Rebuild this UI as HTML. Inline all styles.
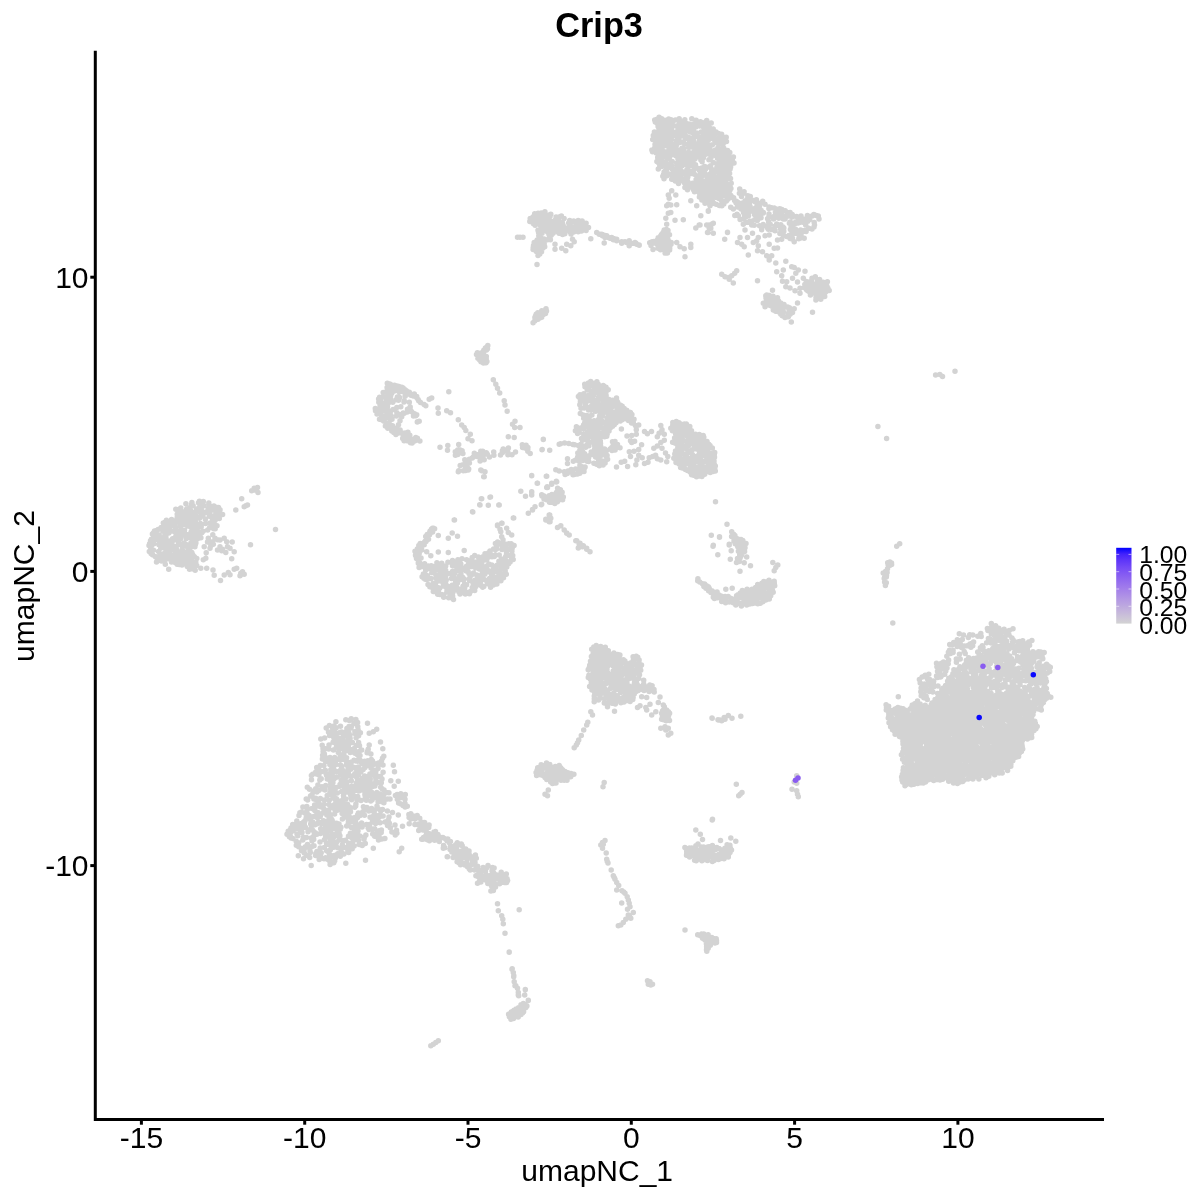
<!DOCTYPE html>
<html><head><meta charset="utf-8"><title>Crip3</title>
<style>
html,body{margin:0;padding:0;background:#fff}
svg{display:block}
text{font-family:"Liberation Sans",sans-serif;fill:#000}
svg{will-change:transform}
</style></head><body>
<svg width="1200" height="1200" viewBox="0 0 1200 1200">
<defs><linearGradient id="g" x1="0" y1="0" x2="0" y2="1"><stop offset="0.000" stop-color="#0000FF"/><stop offset="0.083" stop-color="#4322FC"/><stop offset="0.167" stop-color="#5E36F9"/><stop offset="0.250" stop-color="#7248F6"/><stop offset="0.333" stop-color="#8258F3"/><stop offset="0.417" stop-color="#9068EF"/><stop offset="0.500" stop-color="#9D77EC"/><stop offset="0.583" stop-color="#A886E8"/><stop offset="0.667" stop-color="#B296E4"/><stop offset="0.750" stop-color="#BBA5E0"/><stop offset="0.833" stop-color="#C4B4DC"/><stop offset="0.917" stop-color="#CCC4D8"/><stop offset="1.000" stop-color="#D3D3D3"/></linearGradient></defs>
<rect width="1200" height="1200" fill="#fff"/>
<g fill="none" stroke="#D3D3D3" stroke-width="5.5" stroke-linecap="round">
<path d="M677.8 127.2h0M706.7 120.4h0M696.5 145.9h0M652.5 151.7h0M655.3 122.0h0M686.7 185.8h0M660.1 133.5h0M700.1 148.5h0M725.0 139.3h0M661.9 124.4h0M665.1 164.6h0M705.6 146.4h0M654.4 132.0h0M709.3 151.2h0M676.9 164.9h0M689.2 140.1h0M719.3 174.7h0M670.7 164.0h0M695.6 190.0h0M713.6 139.1h0M686.1 179.8h0M662.6 156.5h0M716.7 163.8h0M726.5 141.4h0M710.6 165.7h0M700.4 153.7h0M691.0 171.7h0M721.8 138.8h0M683.2 172.1h0M664.0 124.3h0M660.6 135.6h0M656.3 153.1h0M697.7 190.7h0M721.5 189.0h0M673.8 150.2h0M664.7 134.3h0M669.8 156.2h0M701.2 136.9h0M681.8 163.2h0M694.7 167.7h0M683.8 148.7h0M658.3 169.1h0M654.7 120.0h0M667.6 128.2h0M679.2 118.7h0M658.1 145.7h0M703.4 127.0h0M671.4 144.3h0M681.3 124.8h0M690.3 156.1h0M656.8 123.0h0M679.4 137.1h0M695.8 126.9h0M725.4 174.5h0M672.2 145.9h0M696.2 181.7h0M678.3 133.5h0M724.5 184.0h0M721.5 178.3h0M669.2 159.0h0M672.1 174.2h0M668.6 133.8h0M666.5 131.9h0M704.3 192.2h0M723.4 155.7h0M706.8 183.5h0M715.4 155.6h0M678.5 183.6h0M713.2 128.9h0M660.4 127.3h0M680.1 161.7h0M687.5 189.7h0M671.4 139.6h0M672.1 150.5h0M680.4 153.9h0M700.7 192.5h0M693.5 160.3h0M688.0 130.0h0M664.4 155.2h0M713.2 162.4h0M678.0 159.1h0M698.2 182.1h0M658.5 162.7h0M717.4 158.2h0M698.8 180.0h0M729.8 152.6h0M703.3 158.0h0M694.4 174.2h0M689.1 160.4h0M710.9 190.1h0M659.9 152.5h0M655.6 135.0h0M718.4 191.9h0M662.8 176.2h0M707.5 126.6h0M684.3 156.4h0M663.4 151.6h0M694.7 143.6h0M666.5 141.8h0M698.1 152.3h0M658.4 137.2h0M673.1 125.4h0M721.5 136.6h0M699.6 174.9h0M657.1 119.2h0M705.2 183.6h0M689.2 143.6h0M695.7 134.8h0M658.8 128.2h0M676.7 140.6h0M716.3 139.3h0M693.3 129.6h0M721.5 151.6h0M692.9 186.5h0M683.9 158.1h0M711.6 169.3h0M684.9 144.3h0M671.7 128.3h0M726.1 172.3h0M674.1 135.2h0M675.1 154.0h0M676.5 145.1h0M691.1 157.7h0M666.9 157.9h0M657.1 148.8h0M676.0 134.3h0M700.9 160.0h0M715.5 171.2h0M683.6 142.4h0M713.1 169.9h0M728.0 168.5h0M714.0 184.6h0M661.5 159.6h0M720.2 185.8h0M709.5 174.3h0M660.9 145.4h0M698.5 168.6h0M704.5 173.2h0M719.6 179.0h0M714.2 136.0h0M655.7 137.2h0M713.6 132.0h0M692.8 147.3h0M691.5 173.4h0M716.9 167.6h0M662.2 136.2h0M714.8 140.5h0M708.9 139.4h0M694.8 154.4h0M690.4 124.4h0M688.9 137.5h0M667.8 164.6h0M721.6 158.3h0M682.0 148.2h0M681.0 151.3h0M671.2 137.2h0M732.3 161.8h0M713.9 153.2h0M690.9 144.0h0M675.5 178.2h0M707.1 140.2h0M698.4 148.3h0M663.9 128.2h0M693.1 133.2h0M688.9 126.3h0M666.2 122.0h0M679.4 122.1h0M699.5 191.1h0M715.4 149.9h0M685.7 159.6h0M684.5 152.8h0M728.3 155.2h0M706.3 180.4h0M689.6 162.0h0M705.4 174.7h0M659.1 120.3h0M695.5 164.7h0M683.4 133.5h0M669.9 135.6h0M693.2 172.6h0M686.3 136.5h0M708.1 194.3h0M679.0 150.6h0M709.5 131.3h0M721.6 134.2h0M668.9 150.3h0M707.9 196.4h0M662.1 148.3h0M661.7 118.7h0M654.5 148.3h0M707.9 147.0h0M673.9 144.6h0M666.2 145.7h0M685.5 184.5h0M715.2 192.0h0M672.3 176.3h0M677.1 138.1h0M730.1 169.1h0M683.3 135.9h0M687.1 156.9h0M721.8 181.1h0M702.8 142.6h0M671.0 119.8h0M672.6 121.5h0M657.7 157.4h0M711.9 152.9h0M715.2 187.6h0M707.9 124.7h0M699.2 146.5h0M700.2 142.4h0M720.6 170.8h0M691.1 185.2h0M652.7 139.6h0M659.7 130.6h0M725.7 153.1h0M701.8 167.9h0M668.4 146.1h0M661.7 131.8h0M671.7 166.1h0M706.7 131.8h0M676.7 131.8h0M719.4 161.7h0M684.1 161.8h0M705.6 122.1h0M663.6 174.4h0M685.4 138.7h0M676.8 163.3h0M681.3 131.3h0M689.9 128.3h0M705.8 193.0h0M681.9 157.9h0M662.1 138.7h0M666.6 125.1h0M691.8 118.8h0M718.6 133.4h0M684.9 187.5h0M694.9 147.4h0M713.2 191.9h0M702.1 161.8h0M704.6 140.7h0M686.3 164.7h0M686.8 171.3h0M688.6 152.2h0M716.6 181.8h0M714.0 181.6h0M718.8 194.8h0M655.0 144.6h0M667.6 136.9h0M693.9 141.8h0M709.2 191.8h0M659.3 160.2h0M726.3 162.3h0M704.8 148.3h0M719.6 137.1h0M681.0 180.4h0M700.9 171.7h0M703.6 151.6h0M694.5 191.8h0M701.2 131.9h0M704.3 155.3h0M670.7 127.1h0M726.1 182.0h0M684.7 137.1h0M698.8 144.5h0M706.2 152.6h0M685.0 134.8h0M666.8 166.9h0M693.9 169.8h0M718.3 176.2h0M669.1 123.3h0M678.8 179.1h0M710.6 187.4h0M712.0 137.2h0M718.8 159.5h0M672.6 169.8h0M672.2 134.6h0M714.9 196.0h0M715.1 142.5h0M690.6 186.9h0M687.8 177.0h0M699.5 140.8h0M667.9 168.1h0M679.6 126.5h0M710.7 178.0h0M721.6 191.4h0M658.6 132.0h0M659.1 117.2h0M705.2 185.7h0M705.0 139.1h0M716.1 131.9h0M677.4 150.9h0M674.1 176.2h0M681.7 142.0h0M724.4 167.8h0M651.9 150.0h0M687.7 181.2h0M679.8 175.2h0M696.7 132.9h0M692.6 183.2h0M665.5 157.0h0M674.2 132.8h0M711.0 157.4h0M710.7 182.4h0M704.6 145.0h0M728.8 157.6h0M669.8 154.1h0M696.1 179.6h0M679.9 142.5h0M707.7 178.5h0M660.3 154.2h0M671.0 142.5h0M678.1 130.6h0M658.1 147.5h0M666.5 169.5h0M684.4 182.7h0M661.7 166.5h0M684.9 178.4h0M724.5 173.1h0M676.8 168.6h0M657.8 150.5h0M704.8 135.8h0M686.6 153.6h0M665.3 170.9h0M717.9 147.9h0M732.3 159.2h0M697.0 176.3h0M667.7 173.5h0M683.8 180.3h0M686.3 174.7h0M720.7 169.1h0M680.4 169.5h0M697.6 125.0h0M722.8 144.9h0M724.3 137.3h0M675.8 155.7h0M687.0 169.4h0M707.1 135.8h0M658.1 126.5h0M702.9 181.9h0M718.8 186.9h0M698.2 137.1h0M696.8 188.9h0M707.9 187.0h0M705.4 169.3h0M694.3 156.2h0M681.5 155.3h0M667.8 151.9h0M686.5 162.2h0M722.3 149.2h0M693.7 137.7h0M678.4 141.6h0M730.6 166.9h0M703.6 168.5h0M708.1 153.8h0M717.6 193.4h0M705.9 195.1h0M720.7 164.0h0M685.6 123.0h0M712.7 135.2h0M712.2 188.3h0M687.9 172.8h0M704.8 150.4h0M711.3 185.9h0M678.5 166.7h0M702.3 140.9h0M682.4 173.5h0M702.3 191.8h0M699.7 137.9h0M709.6 193.4h0M702.8 172.9h0M690.3 132.1h0M671.7 179.3h0M719.1 154.0h0M727.3 159.4h0M691.3 165.2h0M701.9 144.1h0M725.7 156.3h0M718.0 151.1h0M666.9 129.8h0M702.0 148.6h0M701.4 179.9h0M658.5 142.2h0M691.7 128.8h0M661.5 152.9h0M668.7 119.1h0M723.3 143.2h0M708.2 132.5h0M691.3 139.0h0M671.9 131.6h0M657.8 139.3h0M720.5 143.7h0M722.7 159.8h0M665.6 151.9h0M699.6 126.1h0M712.0 131.2h0M703.3 175.5h0M667.0 119.9h0M723.5 189.1h0M726.2 137.2h0M681.6 128.3h0M682.0 165.7h0M688.5 158.9h0M677.5 175.8h0M733.4 157.0h0M711.2 123.1h0M726.0 176.3h0M692.8 157.6h0M685.0 126.0h0M701.4 188.8h0M662.2 163.8h0M683.5 150.6h0M717.8 143.5h0M720.2 193.3h0M696.1 120.2h0M705.8 137.2h0M695.1 151.8h0M676.1 170.3h0M659.8 165.7h0M672.9 154.6h0M660.1 125.6h0M656.9 161.5h0M699.5 170.5h0M666.9 175.7h0M698.3 156.8h0M675.3 181.1h0M663.2 120.0h0M662.8 143.4h0M680.3 172.7h0M703.6 187.8h0M714.4 178.6h0M699.7 150.4h0M718.4 189.8h0M702.8 147.1h0M689.1 153.9h0M693.3 152.6h0M665.4 140.5h0M700.5 121.8h0M723.7 186.8h0M694.9 159.0h0M709.7 147.9h0M708.9 159.7h0M696.0 184.9h0M664.2 141.7h0M694.4 123.7h0M727.6 150.6h0M704.8 166.4h0M676.3 174.0h0M723.6 165.0h0M693.1 162.1h0M703.3 184.1h0M712.4 144.8h0M664.1 137.3h0M688.9 147.6h0M688.0 167.9h0M721.2 140.5h0M670.6 147.9h0M712.6 133.4h0M684.8 119.8h0M680.2 135.4h0M666.1 138.7h0M707.8 143.8h0M688.3 186.6h0M680.3 176.8h0M728.6 165.1h0M702.9 132.6h0M683.6 121.6h0M677.5 171.6h0M675.4 119.9h0M710.9 135.7h0M704.7 129.9h0M714.0 175.9h0M663.5 131.3h0M675.9 147.2h0M653.3 135.4h0M704.6 153.4h0M711.2 184.0h0M672.2 161.5h0M697.2 135.8h0M685.5 131.6h0M676.6 126.0h0M711.6 172.3h0M664.1 171.9h0M702.1 154.1h0M716.8 186.2h0M654.5 138.5h0M688.7 124.0h0M677.8 154.8h0M723.3 139.8h0M722.1 141.9h0M721.6 175.3h0M663.1 140.1h0M709.9 128.3h0M674.2 171.5h0M708.9 167.0h0M727.8 161.7h0M683.8 129.0h0M734.0 163.0h0M670.1 146.4h0M668.0 140.2h0M711.7 151.1h0M664.0 178.8h0M709.3 185.7h0M702.5 122.8h0M697.6 183.8h0M708.8 136.2h0M665.5 162.2h0M682.8 126.7h0M693.5 189.8h0M723.8 148.3h0M726.3 167.1h0M655.9 142.7h0M671.7 190.8h0M668.3 195.0h0M675.8 195.0h0M669.2 198.3h0M668.3 204.2h0M666.7 205.8h0M670.8 205.0h0M676.7 204.7h0M670.8 212.5h0M668.3 213.3h0M665.8 218.3h0M675.0 220.3h0M683.3 219.7h0M666.7 224.2h0M664.2 230.0h0M663.3 235.0h0M657.8 244.0h0M663.7 234.8h0M652.1 241.7h0M651.8 243.7h0M660.5 249.8h0M669.6 249.9h0M662.6 245.7h0M667.4 252.9h0M653.0 249.6h0M665.7 241.9h0M662.7 237.2h0M660.2 238.8h0M658.2 237.7h0M657.4 240.0h0M660.8 235.7h0M671.0 244.2h0M664.7 233.2h0M663.1 232.6h0M649.7 242.8h0M669.7 245.9h0M663.1 238.8h0M653.9 241.5h0M661.6 234.4h0M662.1 248.4h0M666.5 229.4h0M667.9 239.4h0M659.9 244.3h0M660.4 246.4h0M664.9 249.6h0M666.8 235.9h0M658.0 246.3h0M666.9 233.9h0M666.3 245.9h0M669.5 234.7h0M666.1 251.4h0M661.6 240.3h0M665.1 253.1h0M656.1 243.4h0M664.2 246.3h0M669.7 248.2h0M664.4 236.4h0M663.0 243.1h0M669.1 242.0h0M651.0 245.6h0M665.8 238.0h0M658.0 248.3h0M659.4 241.0h0M671.2 242.5h0M668.0 230.4h0M600.0 234.2h0M605.0 237.5h0M610.0 238.3h0M616.7 240.8h0M621.7 242.5h0M628.3 242.5h0M633.3 243.3h0M639.2 245.0h0M604.2 243.0h0M629.2 245.0h0M625.0 241.7h0M613.3 239.7h0M635.8 243.0h0M602.5 235.8h0M607.5 237.0h0M676.7 242.5h0M680.0 246.7h0M684.2 248.7h0M690.8 244.2h0M690.8 247.5h0M685.0 256.7h0M690.8 200.8h0M696.7 205.8h0M705.0 203.3h0M710.0 205.8h0M708.3 211.3h0M700.8 215.8h0M699.2 225.0h0M695.8 228.0h0M709.2 225.0h0M713.3 223.3h0M710.8 228.3h0M708.0 232.5h0M713.3 233.3h0M727.5 232.5h0M724.7 239.2h0M721.7 274.2h0M725.0 276.7h0M728.3 277.5h0M731.7 275.8h0M734.7 273.3h0M736.7 270.8h0M729.2 279.2h0M733.3 283.0h0M743.3 224.2h0M751.7 225.0h0M745.0 230.0h0M752.5 233.3h0M761.7 229.7h0M768.3 229.2h0M773.3 229.7h0M765.0 235.8h0M769.2 235.0h0M740.0 237.5h0M747.5 237.5h0M758.3 237.5h0M737.5 242.5h0M741.7 244.2h0M744.2 246.7h0M753.3 242.5h0M756.7 240.8h0M758.3 245.8h0M757.5 250.8h0M762.5 251.7h0M769.2 244.2h0M774.2 248.3h0M777.5 248.0h0M777.5 240.0h0M781.7 239.2h0M783.3 235.0h0M779.2 225.8h0M783.3 228.3h0M792.5 238.3h0M794.2 241.7h0M795.8 233.3h0M800.0 238.3h0M804.2 238.3h0M748.3 255.0h0M766.7 255.8h0M771.7 255.8h0M769.2 260.0h0M775.8 263.0h0M785.8 261.3h0M706.7 225.0h0M712.5 223.7h0M709.2 228.3h0M707.5 232.5h0M713.3 233.3h0M727.5 232.2h0M724.7 239.2h0M700.8 215.8h0M700.0 225.0h0M708.3 210.8h0M705.0 203.3h0M710.0 205.8h0M757.5 280.8h0M776.7 271.7h0M783.3 270.0h0M781.7 275.8h0M791.7 266.7h0M794.2 267.5h0M798.3 270.0h0M805.0 271.3h0M795.8 273.3h0M792.5 278.3h0M797.5 282.0h0M782.5 281.3h0M786.7 281.7h0M785.8 286.7h0M790.0 288.0h0M803.3 278.3h0M800.0 288.3h0M795.0 290.8h0M800.0 293.3h0M812.5 312.2h0M806.3 281.5h0M804.8 284.6h0M825.8 289.4h0M815.3 276.7h0M822.5 287.3h0M816.0 297.4h0M822.1 284.9h0M817.3 281.1h0M812.8 284.1h0M807.7 290.8h0M823.2 282.2h0M811.4 281.2h0M820.8 299.2h0M807.7 286.5h0M825.4 292.2h0M814.9 284.9h0M813.9 293.1h0M826.0 284.4h0M813.2 291.0h0M824.3 285.2h0M817.4 288.7h0M815.5 287.6h0M826.9 286.3h0M815.9 300.1h0M821.8 295.8h0M822.1 290.3h0M824.7 296.6h0M824.3 290.6h0M811.7 289.3h0M809.9 281.8h0M827.4 290.4h0M817.0 286.4h0M827.4 281.7h0M817.8 285.1h0M819.2 284.8h0M829.2 290.4h0M810.4 294.9h0M819.6 279.4h0M821.9 293.9h0M804.5 287.7h0M810.4 284.3h0M824.2 288.6h0M819.6 289.9h0M811.7 287.3h0M818.2 297.1h0M819.5 287.6h0M827.9 288.2h0M816.6 289.8h0M806.6 289.8h0M818.8 294.3h0M817.2 282.7h0M819.0 281.0h0M809.0 291.6h0M820.2 294.3h0M826.0 287.6h0M812.0 278.3h0M772.5 290.3h0M766.7 295.0h0M777.5 297.8h0M771.7 298.3h0M767.5 299.2h0M763.3 303.3h0M765.0 306.7h0M770.0 304.2h0M774.2 305.8h0M778.3 306.7h0M785.0 306.7h0M773.3 310.0h0M778.3 311.7h0M783.3 311.7h0M788.3 313.3h0M792.5 312.5h0M794.2 308.8h0M797.5 303.0h0M785.0 317.5h0M788.3 316.7h0M791.3 322.0h0M780.8 314.2h0M539.5 219.3h0M559.0 233.2h0M539.6 239.6h0M550.0 216.4h0M566.7 230.1h0M586.1 223.3h0M541.9 218.2h0M557.5 220.2h0M549.3 238.1h0M582.0 229.3h0M549.0 219.0h0M568.7 222.9h0M531.9 221.9h0M574.3 230.4h0M534.2 242.5h0M538.6 221.9h0M553.1 233.3h0M538.0 255.6h0M543.2 225.9h0M569.5 227.1h0M548.3 215.2h0M570.2 222.4h0M578.6 222.9h0M563.5 229.4h0M545.0 216.4h0M580.7 225.7h0M546.4 227.5h0M538.8 223.8h0M548.0 230.2h0M553.1 227.6h0M539.9 253.8h0M578.2 231.8h0M562.4 222.8h0M544.2 220.5h0M533.5 223.7h0M579.4 228.1h0M549.5 228.0h0M538.7 251.9h0M562.6 234.4h0M535.1 225.3h0M536.3 241.9h0M544.9 211.7h0M544.7 219.0h0M541.3 213.0h0M583.8 224.6h0M535.4 222.1h0M533.5 219.6h0M569.4 225.3h0M540.9 248.0h0M540.3 250.3h0M566.3 228.3h0M541.5 251.7h0M553.7 222.5h0M539.3 245.1h0M561.5 230.3h0M539.5 243.5h0M530.2 218.6h0M537.2 239.9h0M581.5 231.1h0M536.5 247.2h0M534.7 213.8h0M564.8 233.7h0M540.3 220.9h0M576.5 227.5h0M540.6 237.6h0M588.5 227.5h0M534.6 218.3h0M558.4 228.3h0M542.4 240.8h0M573.7 231.9h0M541.7 227.9h0M541.0 241.9h0M538.8 248.7h0M533.2 247.7h0M551.3 223.5h0M543.3 223.4h0M549.9 224.6h0M543.1 229.0h0M533.1 249.6h0M547.5 239.7h0M551.2 235.2h0M538.0 230.2h0M544.7 246.8h0M538.1 213.3h0M572.2 222.2h0M543.0 248.1h0M570.2 231.9h0M559.0 217.0h0M541.8 230.3h0M550.8 231.8h0M557.2 224.2h0M550.8 214.3h0M571.0 234.1h0M542.0 233.3h0M585.1 226.7h0M537.0 249.7h0M543.7 231.0h0M535.4 220.4h0M536.1 215.2h0M545.9 222.8h0M573.7 221.1h0M553.9 229.4h0M556.1 217.1h0M546.6 221.1h0M576.0 222.0h0M537.8 243.1h0M544.2 243.9h0M549.0 234.4h0M559.0 221.3h0M576.2 225.4h0M573.7 227.6h0M569.7 220.4h0M541.1 222.9h0M580.8 223.8h0M561.4 215.9h0M557.8 218.2h0M561.9 226.5h0M547.8 232.2h0M579.1 230.2h0M555.3 225.2h0M549.3 220.7h0M551.7 226.0h0M582.1 221.0h0M571.2 227.4h0M563.1 225.2h0M582.6 225.6h0M563.7 231.1h0M540.6 225.4h0M543.1 213.4h0M561.7 232.5h0M541.2 245.6h0M555.8 227.4h0M538.8 235.7h0M542.2 221.1h0M537.0 219.3h0M531.7 218.0h0M538.5 232.3h0M553.7 226.0h0M536.4 251.6h0M550.4 239.8h0M555.8 223.2h0M558.8 225.0h0M580.2 221.4h0M551.5 227.7h0M529.8 221.5h0M533.6 216.4h0M538.3 215.9h0M535.7 217.1h0M551.9 221.8h0M544.0 238.9h0M545.0 214.0h0M586.1 230.4h0M558.0 231.8h0M564.1 218.6h0M561.5 224.5h0M533.5 245.6h0M543.5 215.4h0M555.1 220.2h0M578.2 220.4h0M520.0 237.2h0M523.0 237.2h0M517.5 237.2h0M537.0 264.5h0M555.0 244.2h0M555.0 249.2h0M561.7 248.3h0M565.8 250.8h0M566.7 244.2h0M570.8 245.8h0M574.2 241.7h0M572.5 239.2h0M590.8 238.7h0M604.2 243.0h0M596.7 232.5h0M601.7 234.2h0M606.7 235.8h0M611.7 237.5h0M616.7 239.2h0M621.7 241.7h0M626.7 242.5h0M631.7 243.3h0M636.7 244.2h0M639.2 245.3h0M629.2 245.8h0M621.7 243.3h0M599.2 234.2h0M608.3 237.5h0M635.0 242.5h0M629.2 240.8h0M614.2 238.7h0M604.2 235.3h0M546.5 311.1h0M537.8 312.8h0M539.1 315.9h0M543.4 314.6h0M543.4 310.7h0M538.0 319.3h0M546.0 308.7h0M533.1 322.7h0M539.7 312.9h0M541.8 310.7h0M535.5 315.9h0M534.7 321.0h0M545.5 313.5h0M541.7 317.2h0M536.5 318.5h0M536.2 314.3h0M534.9 317.4h0M539.7 318.0h0M540.8 314.7h0M483.4 362.9h0M487.5 348.7h0M484.7 358.5h0M481.0 354.5h0M486.8 346.9h0M484.3 360.4h0M481.0 361.7h0M486.9 361.5h0M483.6 353.6h0M477.4 352.8h0M486.3 356.4h0M482.6 356.7h0M478.7 356.3h0M477.9 358.3h0M486.2 358.7h0M480.1 357.3h0M486.5 350.0h0M483.8 350.3h0M486.0 362.8h0M479.7 360.0h0M476.5 354.4h0M487.8 345.6h0M481.0 353.0h0M485.4 348.1h0M482.6 360.0h0M493.3 379.7h0M495.8 384.2h0M497.5 388.3h0M499.7 393.0h0M504.2 400.8h0M505.0 405.0h0M507.2 411.3h0M515.0 421.3h0M512.5 424.2h0M514.7 427.5h0M520.0 427.5h0M508.3 436.7h0M514.2 437.5h0M378.9 411.4h0M391.3 387.4h0M389.5 398.0h0M386.5 399.2h0M402.7 433.0h0M381.6 415.5h0M387.5 406.4h0M378.8 402.2h0M411.0 440.6h0M409.8 438.1h0M397.1 431.7h0M407.0 392.0h0M377.4 409.9h0M390.6 419.8h0M395.9 434.5h0M410.5 442.8h0M379.5 419.3h0M417.4 438.3h0M386.5 417.9h0M391.0 415.7h0M412.1 443.0h0M407.9 432.2h0M386.0 405.3h0M385.4 426.1h0M382.7 416.7h0M414.6 440.9h0M390.9 390.8h0M380.5 400.3h0M400.4 390.0h0M407.1 434.3h0M417.8 439.9h0M390.1 424.7h0M409.8 435.3h0M386.8 415.7h0M378.6 398.9h0M408.7 436.9h0M380.1 405.5h0M412.8 394.6h0M390.7 399.0h0M387.1 387.5h0M400.1 430.1h0M381.7 408.6h0M412.8 440.1h0M404.1 438.0h0M392.8 387.7h0M377.0 414.1h0M390.2 412.5h0M391.8 431.0h0M383.2 392.5h0M389.3 427.2h0M392.0 429.6h0M387.1 423.5h0M397.0 427.9h0M409.0 394.1h0M386.8 413.9h0M390.5 393.6h0M382.9 396.9h0M389.6 414.6h0M383.6 421.0h0M406.6 436.1h0M395.2 429.0h0M393.8 432.4h0M398.5 433.0h0M405.1 433.1h0M381.1 413.7h0M387.5 396.2h0M390.0 388.8h0M384.3 416.4h0M382.3 402.9h0M419.9 441.1h0M388.6 410.7h0M390.6 384.6h0M386.2 397.2h0M397.8 390.1h0M385.5 402.8h0M403.2 391.8h0M381.7 397.6h0M414.6 438.8h0M392.5 425.7h0M388.3 403.1h0M392.0 392.8h0M386.5 391.4h0M381.0 419.5h0M395.1 390.8h0M394.8 389.0h0M379.6 397.2h0M415.8 437.4h0M391.3 426.6h0M380.1 407.9h0M387.9 384.5h0M375.5 410.7h0M399.4 392.1h0M387.8 428.2h0M392.0 419.2h0M404.1 440.8h0M403.1 435.3h0M404.0 390.2h0M383.2 407.2h0M385.2 409.0h0M398.5 424.8h0M383.3 410.6h0M402.7 438.4h0M390.9 395.1h0M386.5 425.1h0M375.3 408.5h0M407.1 393.8h0M396.5 389.1h0M407.1 440.7h0M387.3 383.2h0M389.8 384.1h0M394.4 385.2h0M396.2 386.6h0M396.3 387.9h0M399.0 386.6h0M401.8 387.2h0M403.1 387.9h0M405.0 389.7h0M406.3 390.7h0M409.3 392.3h0M410.5 394.7h0M414.3 393.9h0M416.7 396.6h0M418.1 399.6h0M418.7 400.7h0M420.5 402.5h0M424.1 404.6h0M425.8 405.8h0M396.9 386.0h0M402.3 390.4h0M403.6 389.1h0M404.7 392.8h0M409.8 393.2h0M411.0 395.2h0M413.3 395.9h0M416.7 397.5h0M404.2 400.8h0M400.8 406.7h0M407.5 409.2h0M411.7 411.7h0M404.2 413.3h0M415.8 415.8h0M401.7 416.7h0M417.5 421.7h0M419.2 421.3h0M400.0 420.8h0M431.7 398.0h0M429.2 399.2h0M448.8 391.7h0M438.0 408.0h0M438.3 413.3h0M446.7 410.8h0M450.5 412.8h0M458.3 419.7h0M461.7 425.0h0M464.2 427.5h0M465.8 430.5h0M470.3 434.2h0M468.0 438.7h0M472.0 440.8h0M458.7 444.5h0M440.0 447.2h0M447.8 445.5h0M447.5 450.3h0M469.4 463.1h0M464.8 459.8h0M462.1 450.8h0M465.4 461.6h0M502.4 450.7h0M477.2 456.4h0M480.6 454.4h0M486.3 452.8h0M484.2 459.7h0M515.5 452.0h0M474.3 453.2h0M459.7 449.7h0M475.4 455.6h0M480.1 461.1h0M500.5 454.9h0M493.7 452.1h0M512.0 454.7h0M458.7 470.8h0M482.7 451.3h0M508.4 448.0h0M482.9 457.8h0M458.0 451.5h0M481.5 457.8h0M460.2 465.5h0M455.4 455.3h0M480.8 451.2h0M481.3 459.3h0M503.2 449.1h0M465.7 470.4h0M489.5 457.1h0M465.7 463.5h0M467.6 467.9h0M487.3 454.3h0M466.7 460.8h0M507.9 454.7h0M472.3 457.9h0M484.7 453.0h0M465.7 466.9h0M484.1 454.3h0M473.3 456.9h0M457.7 450.0h0M462.9 453.6h0M455.3 451.7h0M502.3 452.8h0M463.0 464.8h0M459.4 452.9h0M507.8 452.1h0M468.7 469.1h0M506.8 451.2h0M478.2 454.5h0M469.3 459.2h0M457.8 454.4h0M493.9 455.3h0M527.8 451.2h0M530.2 453.4h0M523.7 446.0h0M525.0 448.1h0M522.6 447.5h0M526.1 445.3h0M527.9 447.6h0M522.3 444.7h0M527.8 449.6h0M543.3 439.5h0M542.2 449.5h0M549.7 450.3h0M559.2 444.2h0M480.8 470.0h0M485.0 471.7h0M483.7 476.7h0M531.7 475.5h0M546.7 476.3h0M555.8 469.7h0M537.5 483.3h0M556.7 481.7h0M551.7 484.2h0M546.7 487.5h0M520.8 491.2h0M531.7 491.7h0M525.5 496.2h0M531.7 495.0h0M541.7 495.0h0M541.3 504.7h0M535.0 506.7h0M532.5 510.0h0M528.3 513.3h0M513.3 518.0h0M490.0 497.2h0M481.3 498.7h0M479.7 504.7h0M488.3 505.3h0M498.8 505.0h0M472.8 512.0h0M454.2 520.0h0M432.5 528.3h0M501.7 523.3h0M497.5 525.8h0M506.7 528.3h0M549.2 515.0h0M545.8 520.0h0M550.0 521.7h0M596.2 384.0h0M606.6 411.0h0M587.1 397.8h0M600.4 413.1h0M602.3 409.9h0M612.7 400.3h0M593.5 390.5h0M599.6 415.9h0M617.9 410.9h0M606.8 431.4h0M605.9 392.4h0M619.8 416.7h0M594.2 420.7h0M600.8 433.6h0M628.4 420.5h0M604.5 403.2h0M626.7 419.0h0M613.8 412.8h0M610.1 407.3h0M601.8 421.1h0M635.4 425.5h0M610.3 400.7h0M587.1 399.6h0M608.4 423.4h0M604.2 397.5h0M602.3 392.8h0M606.4 422.1h0M598.5 419.4h0M588.4 383.1h0M588.4 388.5h0M608.2 389.8h0M603.9 393.4h0M608.8 418.6h0M595.1 424.5h0M587.1 422.0h0M602.1 396.4h0M605.4 432.2h0M611.4 424.4h0M595.3 430.8h0M585.5 424.9h0M598.2 384.3h0M605.6 400.2h0M623.0 409.2h0M595.9 392.6h0M596.1 425.9h0M590.5 421.5h0M601.4 423.1h0M610.5 422.6h0M596.4 408.2h0M606.0 424.7h0M591.9 415.0h0M591.9 391.7h0M598.6 432.7h0M607.2 420.0h0M594.8 422.4h0M591.1 427.9h0M619.6 407.5h0M589.0 395.0h0M620.3 421.1h0M608.2 414.0h0M588.4 407.6h0M580.0 394.7h0M610.4 420.6h0M592.2 385.6h0M595.7 411.2h0M626.2 414.5h0M583.3 398.9h0M623.1 413.4h0M583.8 393.8h0M615.1 402.7h0M602.4 398.4h0M606.1 395.5h0M604.6 411.9h0M593.3 395.9h0M587.0 386.0h0M583.2 401.1h0M594.7 383.2h0M591.2 409.7h0M585.0 386.7h0M629.8 418.8h0M594.5 429.1h0M618.3 420.1h0M590.0 408.2h0M616.0 421.2h0M631.6 422.9h0M588.6 410.1h0M612.9 414.4h0M604.9 410.2h0M608.5 426.9h0M591.8 398.2h0M598.0 409.0h0M595.8 387.9h0M586.4 401.6h0M597.1 389.9h0M606.0 387.2h0M592.2 421.5h0M617.5 412.5h0M578.4 396.4h0M590.7 381.6h0M587.2 389.8h0M599.8 428.2h0M610.4 427.7h0M596.9 381.7h0M598.5 410.7h0M600.6 392.6h0M614.6 418.9h0M597.5 386.0h0M612.1 403.8h0M622.2 419.7h0M624.9 418.1h0M615.6 411.7h0M579.8 404.7h0M582.4 397.4h0M609.2 411.1h0M581.0 408.3h0M591.7 405.7h0M609.2 402.2h0M597.9 424.1h0M604.1 431.2h0M584.7 384.2h0M609.0 416.1h0M603.6 404.6h0M633.3 422.4h0M602.3 412.2h0M599.7 387.4h0M589.1 417.9h0M621.5 414.6h0M606.7 404.8h0M609.0 399.6h0M624.0 410.7h0M589.2 386.6h0M590.8 423.9h0M615.8 415.4h0M614.5 424.5h0M604.3 386.8h0M598.2 426.5h0M592.8 402.1h0M616.0 422.8h0M611.0 411.0h0M600.4 411.0h0M610.0 413.7h0M599.8 420.6h0M591.0 399.7h0M617.7 408.6h0M597.9 430.9h0M604.0 406.8h0M607.3 401.8h0M586.1 406.2h0M603.1 401.3h0M598.8 399.2h0M598.7 392.6h0M601.0 404.8h0M607.1 408.1h0M597.8 405.5h0M607.1 418.3h0M611.4 418.2h0M616.7 406.4h0M619.6 412.5h0M601.8 414.1h0M581.9 395.5h0M612.7 423.2h0M585.4 404.1h0M588.7 400.7h0M612.6 426.2h0M590.0 397.6h0M596.3 433.5h0M600.6 407.0h0M619.9 410.4h0M613.1 406.6h0M607.8 412.2h0M623.1 417.0h0M601.1 389.3h0M605.1 389.1h0M584.6 423.0h0M599.7 394.7h0M595.1 400.6h0M603.2 385.6h0M598.7 396.9h0M602.8 390.3h0M602.7 416.1h0M627.8 417.2h0M597.6 402.7h0M605.8 429.3h0M580.4 401.8h0M584.2 408.0h0M608.4 405.3h0M594.0 406.6h0M580.0 398.5h0M582.7 460.5h0M577.8 452.9h0M586.4 459.4h0M612.5 441.7h0M595.8 450.8h0M620.0 447.8h0M573.0 474.7h0M580.2 456.5h0M593.9 463.2h0M581.9 470.4h0M613.2 443.4h0M595.7 453.3h0M600.8 462.0h0M582.7 453.4h0M582.6 467.1h0M585.1 467.0h0M615.0 441.4h0M568.0 471.1h0M584.2 468.4h0M578.7 461.1h0M593.2 452.7h0M567.3 473.6h0M592.2 454.6h0M581.5 451.1h0M602.2 461.0h0M617.5 444.4h0M598.7 451.3h0M602.4 450.0h0M559.2 470.9h0M588.3 456.0h0M606.2 456.6h0M614.6 443.9h0M594.6 448.9h0M574.6 444.8h0M600.6 463.4h0M597.6 448.4h0M579.3 471.2h0M584.6 453.8h0M599.3 465.8h0M613.6 448.5h0M591.2 452.0h0M577.7 456.9h0M579.8 473.2h0M579.9 465.6h0M564.3 471.8h0M598.7 464.3h0M575.6 469.0h0M602.6 453.5h0M600.9 455.6h0M595.6 456.9h0M582.2 448.1h0M586.9 455.9h0M587.2 461.2h0M610.2 449.1h0M598.2 462.5h0M584.0 471.4h0M565.1 474.4h0M577.5 474.1h0M564.6 442.9h0M595.3 447.7h0M603.1 465.0h0M598.2 458.7h0M588.6 457.8h0M611.8 447.4h0M604.6 449.0h0M582.8 457.0h0M571.6 471.4h0M606.4 450.7h0M615.1 450.0h0M575.8 459.9h0M598.0 455.0h0M604.7 461.2h0M607.6 459.3h0M582.8 451.9h0M588.7 461.6h0M571.3 469.5h0M582.4 469.0h0M604.7 452.9h0M596.6 464.3h0M600.7 446.6h0M605.1 462.9h0M578.4 445.6h0M579.9 449.9h0M617.6 447.3h0M599.4 460.1h0M580.1 466.9h0M584.7 456.3h0M568.8 443.5h0M573.0 444.5h0M607.1 455.5h0M572.7 473.4h0M574.3 474.6h0M612.0 450.5h0M593.1 431.9h0M588.5 415.9h0M594.6 422.2h0M581.5 438.4h0M590.3 433.0h0M583.9 433.9h0M576.4 426.7h0M577.5 431.7h0M595.5 434.7h0M607.2 434.1h0M595.4 442.4h0M593.7 427.5h0M578.0 429.2h0M600.3 441.1h0M607.6 430.6h0M593.4 440.3h0M605.9 432.5h0M577.6 433.5h0M598.8 433.8h0M585.7 426.0h0M587.5 444.5h0M583.1 437.2h0M583.7 418.3h0M599.8 437.3h0M586.3 415.5h0M595.6 423.8h0M593.7 435.9h0M588.7 442.6h0M582.6 440.3h0M587.3 440.2h0M594.7 445.8h0M589.0 428.0h0M586.4 445.5h0M604.6 436.7h0M583.1 415.1h0M579.3 432.6h0M590.5 434.5h0M580.7 428.1h0M575.4 430.7h0M597.8 438.7h0M587.1 438.2h0M585.7 419.8h0M583.6 425.1h0M587.7 431.8h0M604.4 430.8h0M592.2 424.3h0M602.0 428.1h0M596.7 427.3h0M599.0 440.7h0M596.5 444.9h0M591.8 442.0h0M588.2 434.1h0M601.2 436.7h0M589.1 423.8h0M609.0 431.1h0M595.2 436.2h0M591.0 429.7h0M589.0 420.7h0M590.6 436.6h0M600.5 443.6h0M606.7 436.2h0M595.0 426.8h0M580.3 413.6h0M583.6 428.8h0M585.7 447.2h0M588.9 445.8h0M586.1 437.2h0M589.3 430.7h0M585.4 424.5h0M581.1 444.2h0M616.5 467.0h0M621.2 462.3h0M624.7 461.2h0M627.6 466.4h0M630.5 456.5h0M629.3 451.8h0M634.0 451.2h0M635.8 464.7h0M636.9 460.0h0M638.7 455.3h0M642.2 457.7h0M644.5 463.5h0M648.0 462.3h0M649.2 457.7h0M652.7 456.5h0M657.3 458.8h0M660.8 460.0h0M666.7 461.8h0M655.6 455.3h0M653.8 448.3h0M657.3 446.0h0M662.0 448.3h0M665.5 453.0h0M667.8 456.5h0M638.7 449.5h0M641.6 444.8h0M631.7 442.5h0M630.5 440.8h0M634.6 441.3h0M627.0 436.1h0M631.7 435.5h0M636.3 434.3h0M638.7 425.0h0M636.3 429.7h0M644.5 431.4h0M647.4 433.8h0M651.5 431.4h0M621.4 429.1h0M657.3 436.7h0M659.1 433.2h0M660.8 425.6h0M662.0 429.7h0M664.3 434.3h0M664.3 440.2h0M660.8 442.5h0M567.5 458.8h0M567.5 463.5h0M573.3 461.2h0M560.5 443.7h0M616.5 398.0h0M616.3 399.5h0M617.2 401.4h0M617.7 402.6h0M620.6 405.2h0M622.2 406.3h0M624.2 408.4h0M626.7 410.3h0M629.0 412.3h0M630.4 412.5h0M631.9 414.4h0M631.6 417.8h0M634.0 419.2h0M685.8 441.0h0M682.4 468.1h0M701.4 436.2h0M709.8 455.3h0M707.9 456.0h0M692.3 454.4h0M697.6 435.3h0M684.2 467.4h0M703.8 449.1h0M688.7 461.6h0M701.9 476.5h0M707.0 441.5h0M708.7 444.2h0M693.9 473.6h0M682.7 464.0h0M707.5 458.8h0M703.2 454.0h0M700.6 438.8h0M692.3 467.6h0M679.4 446.9h0M680.6 467.6h0M699.2 442.1h0M688.2 430.7h0M679.2 460.7h0M684.5 424.0h0M688.3 445.8h0M705.6 446.2h0M702.7 466.4h0M689.2 441.4h0M672.4 430.7h0M700.5 467.9h0M696.2 459.5h0M705.6 447.8h0M690.9 452.7h0M683.5 428.0h0M695.4 461.4h0M695.5 448.7h0M702.9 443.9h0M704.3 441.4h0M689.0 438.9h0M697.5 446.2h0M681.9 424.4h0M695.0 445.7h0M684.5 431.7h0M684.0 434.5h0M687.9 452.5h0M710.2 459.9h0M685.4 469.4h0M696.5 476.7h0M709.2 469.8h0M681.0 465.7h0M682.6 435.6h0M691.6 472.9h0M672.8 422.4h0M683.1 453.7h0M695.0 438.3h0M691.3 434.0h0M686.5 435.5h0M685.0 454.9h0M682.1 462.4h0M694.0 436.9h0M672.6 442.3h0M698.6 455.2h0M707.1 466.8h0M706.3 460.0h0M674.9 443.1h0M700.4 463.3h0M699.7 452.8h0M705.6 444.3h0M687.6 463.4h0M676.0 462.6h0M681.1 460.5h0M689.8 426.4h0M712.3 462.3h0M680.9 444.2h0M681.6 450.4h0M681.3 447.7h0M675.5 430.4h0M693.6 465.0h0M695.9 474.0h0M699.3 472.7h0M685.7 446.4h0M687.5 470.4h0M701.8 448.1h0M689.8 432.4h0M711.8 467.3h0M676.7 443.9h0M686.0 426.8h0M677.2 434.7h0M677.3 423.8h0M686.7 449.1h0M711.8 454.4h0M675.0 457.0h0M672.6 426.4h0M675.8 459.7h0M710.0 445.6h0M698.4 438.3h0M677.8 447.8h0M702.2 463.3h0M691.6 474.7h0M696.9 456.2h0M675.7 434.0h0M705.1 453.8h0M712.9 465.9h0M693.9 434.7h0M689.1 458.4h0M701.1 456.1h0M704.7 474.2h0M700.0 457.9h0M714.2 464.1h0M679.2 445.1h0M679.1 464.1h0M689.6 429.6h0M690.1 472.1h0M715.3 471.1h0M712.1 458.6h0M702.6 473.0h0M714.0 461.1h0M674.8 453.9h0M685.3 459.3h0M701.1 474.6h0M702.6 439.3h0M670.8 428.3h0M709.6 463.5h0M709.1 466.2h0M714.8 468.1h0M714.3 454.8h0M678.2 440.3h0M690.1 462.7h0M677.3 430.8h0M705.4 468.0h0M691.2 460.2h0M679.8 459.0h0M673.8 458.3h0M699.1 450.7h0M676.7 432.3h0M672.8 424.4h0M688.6 435.8h0M697.4 469.3h0M713.0 471.5h0M686.2 461.3h0M695.4 434.2h0M693.6 448.9h0M690.0 468.2h0M675.5 451.1h0M710.2 453.2h0M683.8 447.7h0M691.6 470.0h0M697.0 467.4h0M691.8 450.1h0M690.1 442.9h0M706.7 471.8h0M686.4 456.6h0M704.8 455.6h0M681.4 442.5h0M704.5 461.1h0M682.4 433.1h0M674.6 438.1h0M698.0 448.2h0M678.9 434.4h0M687.4 427.8h0M701.1 460.5h0M699.3 434.5h0M680.4 436.5h0M688.7 433.6h0M714.5 457.3h0M705.7 450.2h0M714.0 469.6h0M678.8 427.9h0M677.2 436.4h0M698.0 461.9h0M677.8 462.0h0M680.6 426.4h0M679.1 431.6h0M689.1 444.2h0M676.4 426.4h0M679.1 438.2h0M678.6 449.4h0M691.5 430.8h0M672.7 428.8h0M681.2 431.6h0M699.2 476.0h0M692.4 444.0h0M710.2 472.6h0M703.3 451.9h0M709.8 461.9h0M700.1 444.4h0M682.3 439.2h0M682.8 459.4h0M675.9 441.0h0M703.2 435.5h0M692.5 442.3h0M679.2 424.8h0M712.3 448.0h0M676.3 421.6h0M679.0 422.8h0M706.6 462.0h0M676.9 438.2h0M676.9 454.3h0M685.5 428.6h0M675.1 425.1h0M687.0 443.5h0M689.2 450.9h0M683.2 446.0h0M686.3 424.0h0M704.0 469.9h0M693.5 475.3h0M694.5 470.9h0M681.1 454.4h0M703.8 437.2h0M685.9 464.1h0M677.8 459.3h0M693.3 439.1h0M692.8 456.0h0M678.9 457.3h0M681.8 452.6h0M715.3 466.0h0M696.0 470.1h0M707.9 448.6h0M696.5 441.8h0M714.7 452.4h0M543.3 439.2h0M542.0 449.7h0M549.7 450.3h0M546.3 476.2h0M556.3 482.0h0M551.7 484.2h0M547.5 487.5h0M556.0 494.6h0M557.4 501.8h0M549.5 502.2h0M546.5 499.8h0M556.4 492.6h0M551.7 497.1h0M554.8 503.4h0M551.9 494.4h0M555.3 497.6h0M544.7 496.7h0M558.7 494.5h0M553.9 499.9h0M547.3 497.8h0M549.1 495.8h0M557.3 496.2h0M558.4 492.7h0M561.7 496.4h0M562.1 492.2h0M560.2 499.5h0M563.3 496.9h0M544.0 499.1h0M549.8 500.3h0M560.4 489.7h0M543.6 495.7h0M557.6 488.2h0M542.0 496.1h0M562.6 499.8h0M552.8 498.2h0M551.1 502.2h0M541.7 504.2h0M549.7 515.0h0M545.8 520.0h0M549.7 521.7h0M557.5 527.5h0M560.8 525.8h0M564.2 530.0h0M566.7 533.3h0M569.2 535.0h0M575.8 540.8h0M579.2 544.2h0M582.5 546.7h0M586.7 549.2h0M715.5 501.7h0M727.0 524.2h0M711.3 535.3h0M719.5 536.7h0M713.3 545.3h0M731.7 531.7h0M733.3 536.7h0M735.8 541.7h0M729.2 544.2h0M738.3 546.7h0M501.9 549.6h0M420.2 543.4h0M464.6 584.0h0M493.6 549.1h0M418.3 562.8h0M446.9 591.9h0M506.8 567.0h0M493.1 581.2h0M466.6 559.8h0M428.0 584.4h0M425.7 570.3h0M503.0 539.8h0M432.7 568.1h0M457.0 570.3h0M484.8 574.2h0M489.5 578.5h0M425.3 579.2h0M432.5 566.3h0M487.0 558.9h0M485.3 567.3h0M504.4 562.3h0M438.4 590.5h0M423.8 578.3h0M468.1 571.4h0M508.9 543.7h0M496.8 545.5h0M504.0 568.7h0M490.5 580.8h0M435.3 584.0h0M492.4 578.8h0M450.9 597.0h0M490.0 550.9h0M469.7 566.5h0M422.0 544.2h0M490.6 587.2h0M452.2 585.3h0M446.2 580.1h0M465.7 591.7h0M416.5 558.6h0M433.1 583.4h0M443.1 576.5h0M438.8 575.1h0M471.8 566.4h0M513.2 559.4h0M456.6 587.3h0M421.0 566.7h0M425.9 566.9h0M497.8 577.1h0M483.0 556.7h0M480.2 565.5h0M457.4 582.9h0M440.4 568.6h0M481.9 574.2h0M490.2 553.5h0M492.4 570.4h0M498.2 570.9h0M502.2 547.2h0M462.9 567.9h0M433.3 586.4h0M429.8 586.7h0M467.2 568.3h0M501.4 565.9h0M422.8 564.4h0M487.4 583.2h0M431.8 572.4h0M427.1 577.5h0M432.5 587.8h0M423.4 574.1h0M427.5 575.7h0M426.0 541.4h0M459.5 576.2h0M424.6 576.8h0M483.7 570.5h0M452.6 588.2h0M419.1 567.6h0M452.4 571.4h0M427.1 538.1h0M427.1 568.9h0M482.7 587.2h0M455.4 571.5h0M505.2 571.0h0M440.3 581.1h0M428.2 534.7h0M472.7 561.5h0M434.4 570.5h0M454.5 564.1h0M507.8 561.7h0M509.8 549.2h0M469.4 593.7h0M476.8 575.0h0M457.0 589.3h0M435.9 586.5h0M477.8 577.8h0M461.0 575.6h0M448.0 573.4h0M501.1 543.6h0M449.3 586.9h0M450.3 595.2h0M463.2 591.7h0M496.1 566.2h0M462.0 558.7h0M436.0 577.7h0M481.8 564.4h0M444.3 578.6h0M477.1 583.3h0M475.6 568.1h0M474.7 555.4h0M437.3 576.7h0M503.5 577.8h0M438.9 569.8h0M498.7 575.6h0M497.6 541.9h0M459.8 567.4h0M474.7 590.4h0M460.0 594.1h0M485.9 556.8h0M417.3 549.1h0M428.9 567.1h0M440.8 575.2h0M424.6 563.7h0M432.6 532.1h0M499.6 577.0h0M437.7 594.2h0M488.5 571.7h0M506.1 549.2h0M493.4 585.1h0M499.2 555.1h0M484.8 560.0h0M459.7 579.7h0M473.5 572.9h0M439.3 579.4h0M491.5 574.4h0M473.1 583.2h0M456.2 578.8h0M488.7 552.7h0M481.9 559.8h0M481.3 577.8h0M480.6 569.3h0M443.3 583.0h0M464.7 587.5h0M500.6 562.1h0M472.6 574.3h0M486.0 580.2h0M431.4 529.2h0M448.4 591.8h0M415.0 551.3h0M496.8 581.5h0M421.0 558.0h0M469.5 578.7h0M475.9 586.6h0M496.9 571.4h0M441.5 594.4h0M480.5 581.8h0M462.5 577.2h0M454.5 565.9h0M455.6 582.4h0M479.6 562.2h0M458.6 589.0h0M436.3 592.1h0M495.2 555.0h0M458.4 578.4h0M506.3 574.3h0M451.5 562.6h0M445.7 586.8h0M443.9 570.2h0M466.2 570.9h0M463.5 580.0h0M461.9 569.9h0M432.0 570.4h0M452.2 573.9h0M483.8 586.4h0M447.6 586.3h0M446.2 573.1h0M469.6 580.5h0M511.1 543.8h0M512.7 555.6h0M478.1 584.2h0M447.9 562.3h0M495.4 549.8h0M485.7 558.9h0M460.8 563.9h0M457.9 559.7h0M443.6 572.0h0M495.4 543.4h0M498.6 580.5h0M493.4 569.0h0M466.6 584.7h0M433.5 572.5h0M472.2 557.5h0M512.3 548.1h0M448.7 597.8h0M427.0 536.5h0M445.7 570.4h0M511.5 557.8h0M417.1 554.6h0M501.3 559.1h0M418.8 545.4h0M445.6 577.0h0M431.0 578.6h0M435.6 589.7h0M422.1 576.7h0M468.7 563.4h0M443.7 595.0h0M453.5 599.6h0M452.3 576.5h0M454.7 573.2h0M504.2 560.4h0M473.8 584.6h0M497.2 578.7h0M470.4 591.6h0M470.1 576.7h0M505.1 544.1h0M486.0 571.1h0M437.6 566.6h0M441.4 567.5h0M506.4 554.4h0M469.0 573.5h0M504.3 546.1h0M447.0 590.2h0M443.2 586.0h0M510.1 562.0h0M491.1 571.3h0M425.4 575.0h0M496.9 584.0h0M445.7 565.9h0M439.8 594.5h0M436.0 582.6h0M451.2 591.3h0M428.4 565.9h0M431.2 565.8h0M458.9 562.8h0M495.3 579.4h0M455.5 580.2h0M435.9 574.8h0M459.0 592.1h0M476.2 564.5h0M460.9 573.5h0M454.8 562.1h0M478.6 579.0h0M500.2 573.0h0M497.1 565.3h0M415.9 553.9h0M514.1 545.5h0M508.5 555.6h0M451.5 578.6h0M452.5 560.5h0M453.7 575.7h0M452.1 598.1h0M498.9 561.2h0M479.3 568.9h0M441.7 563.2h0M487.0 565.9h0M501.0 578.6h0M452.5 565.7h0M453.0 592.1h0M502.8 543.3h0M478.4 557.1h0M461.5 592.0h0M490.2 584.7h0M503.1 567.1h0M439.6 588.2h0M471.8 559.5h0M489.4 556.5h0M445.7 583.8h0M485.0 553.8h0M421.7 550.0h0M465.3 594.1h0M434.8 568.2h0M424.5 566.9h0M427.7 579.2h0M436.9 562.8h0M474.8 565.1h0M464.2 585.4h0M463.0 586.2h0M415.5 555.2h0M431.2 532.0h0M491.8 564.9h0M492.0 556.8h0M500.9 580.7h0M440.2 571.9h0M503.9 573.4h0M502.3 563.1h0M464.2 578.9h0M496.5 549.1h0M511.9 551.3h0M437.9 587.6h0M459.3 571.3h0M476.4 562.0h0M455.0 589.9h0M506.4 551.5h0M452.6 596.1h0M488.8 563.9h0M443.7 597.2h0M474.9 580.3h0M457.3 580.3h0M472.2 587.5h0M488.4 584.0h0M478.5 565.5h0M481.6 586.1h0M456.9 563.9h0M448.7 589.2h0M463.3 588.2h0M501.3 568.0h0M506.1 545.6h0M487.3 569.7h0M508.6 563.8h0M483.8 579.3h0M505.5 557.1h0M511.0 549.7h0M466.5 566.2h0M454.4 586.4h0M433.3 591.5h0M494.3 556.4h0M494.4 567.4h0M492.9 575.3h0M454.4 585.1h0M434.6 528.8h0M433.5 528.3h0M430.7 532.7h0M429.6 534.7h0M427.6 537.7h0M428.5 539.3h0M426.7 540.2h0M425.2 541.2h0M424.2 544.8h0M424.1 543.7h0M421.8 544.7h0M419.0 548.1h0M421.5 548.3h0M418.8 552.9h0M419.2 553.5h0M416.2 556.7h0M418.2 557.9h0M419.8 562.9h0M418.3 563.3h0M430.0 531.2h0M427.2 534.6h0M425.7 536.4h0M424.2 542.5h0M424.1 544.4h0M423.1 545.0h0M420.8 547.5h0M438.3 535.5h0M448.3 538.3h0M452.2 533.0h0M457.5 536.3h0M438.3 552.0h0M448.3 552.5h0M464.2 550.5h0M426.7 551.7h0M430.8 555.8h0M454.5 520.0h0M472.5 511.7h0M480.0 505.0h0M481.7 498.7h0M490.5 497.0h0M488.3 505.3h0M499.2 505.0h0M497.5 525.0h0M502.0 523.3h0M500.0 529.2h0M506.7 528.3h0M508.3 532.5h0M511.7 535.0h0M501.7 536.7h0M500.8 531.7h0M513.7 518.0h0M528.3 513.3h0M532.5 509.5h0M535.0 506.7h0M541.3 504.5h0M520.8 491.2h0M525.5 496.2h0M531.7 492.5h0M531.7 495.0h0M537.2 483.3h0M531.7 475.8h0M546.7 476.3h0M547.2 486.7h0M551.7 483.3h0M556.3 481.3h0M541.7 494.7h0M549.2 515.0h0M545.8 519.2h0M549.2 521.7h0M550.8 518.3h0M557.5 527.5h0M560.8 525.8h0M564.2 530.0h0M566.7 533.0h0M569.2 535.0h0M576.7 540.8h0M580.0 543.3h0M583.3 545.8h0M586.7 548.3h0M590.0 551.7h0M578.3 548.0h0M458.3 471.7h0M463.3 470.8h0M468.3 470.0h0M481.7 470.8h0M484.2 476.7h0M626.4 671.0h0M641.5 665.0h0M604.4 660.0h0M649.1 691.6h0M619.4 678.1h0M612.0 703.3h0M601.7 662.8h0M628.8 678.7h0M639.1 660.1h0M608.2 655.5h0M615.3 704.0h0M629.4 688.9h0M588.3 677.5h0M603.1 692.8h0M606.7 679.8h0M603.2 653.9h0M608.9 702.6h0M591.4 656.6h0M622.1 679.5h0M626.4 698.5h0M616.9 658.9h0M636.2 656.3h0M623.3 697.6h0M605.7 665.8h0M615.5 654.8h0M629.6 690.8h0M610.4 659.3h0M591.3 683.0h0M608.8 662.7h0M594.3 680.7h0M596.5 655.9h0M609.5 694.2h0M631.7 678.1h0M652.1 685.8h0M619.8 699.4h0M599.8 679.4h0M590.5 661.2h0M617.7 654.6h0M636.0 691.6h0M639.0 662.6h0M627.7 696.0h0M603.3 665.3h0M593.5 671.0h0M598.9 649.3h0M628.6 673.5h0M633.2 695.0h0M599.1 677.3h0M605.0 654.0h0M601.2 693.6h0M598.0 653.3h0M607.7 666.1h0M621.4 682.9h0M598.1 666.1h0M590.4 679.3h0M617.5 679.4h0M598.8 656.3h0M593.7 657.0h0M601.9 675.1h0M625.5 694.5h0M602.7 683.2h0M638.7 678.6h0M611.5 675.3h0M634.5 670.5h0M640.7 670.2h0M595.8 653.1h0M595.9 676.9h0M599.9 695.8h0M589.7 665.2h0M609.5 654.4h0M633.1 656.8h0M598.9 682.2h0M596.0 693.7h0M613.8 693.0h0M610.4 681.2h0M603.1 650.4h0M593.2 653.3h0M620.2 660.0h0M594.6 651.0h0M588.2 669.8h0M592.1 687.9h0M632.9 664.4h0M620.6 664.8h0M643.7 680.3h0M615.9 678.3h0M628.4 692.9h0M622.0 663.0h0M625.3 687.1h0M598.5 700.0h0M615.4 669.2h0M623.5 691.7h0M599.8 665.7h0M605.8 683.7h0M617.6 687.9h0M613.2 671.0h0M625.3 691.6h0M612.9 654.2h0M642.3 685.9h0M612.9 665.8h0M624.4 669.2h0M629.6 667.9h0M598.6 647.2h0M614.1 696.0h0M601.2 685.7h0M602.2 690.7h0M631.2 667.6h0M620.7 692.4h0M635.1 686.8h0M630.1 701.4h0M618.5 698.0h0M609.5 657.5h0M612.3 695.9h0M636.4 682.2h0M648.5 689.9h0M596.1 699.8h0M599.8 673.7h0M620.5 673.8h0M614.6 700.7h0M639.8 689.6h0M637.0 672.9h0M619.2 658.1h0M600.8 682.9h0M627.2 690.2h0M624.1 682.2h0M624.2 673.1h0M610.3 662.1h0M609.6 675.2h0M608.5 681.7h0M628.2 671.3h0M627.9 669.0h0M634.1 678.4h0M605.7 690.5h0M596.8 663.5h0M632.9 688.1h0M614.5 657.7h0M632.2 692.0h0M633.5 662.1h0M610.9 655.8h0M604.3 703.0h0M595.5 667.6h0M607.6 695.7h0M624.9 660.9h0M618.9 672.2h0M628.4 666.6h0M621.2 687.2h0M594.1 687.1h0M594.3 695.9h0M634.9 658.7h0M591.7 649.3h0M592.1 686.1h0M638.4 687.4h0M626.9 682.6h0M623.4 659.7h0M616.0 701.6h0M616.4 674.8h0M605.3 647.3h0M593.3 675.9h0M651.7 689.2h0M589.6 686.4h0M596.6 659.7h0M601.9 678.3h0M631.3 671.1h0M591.2 667.1h0M605.8 694.2h0M610.3 683.4h0M607.5 672.5h0M633.4 659.8h0M595.0 684.7h0M629.0 686.1h0M649.8 684.9h0M610.2 688.4h0M605.1 674.9h0M617.2 682.8h0M647.5 686.8h0M637.2 684.6h0M594.2 664.0h0M604.8 678.0h0M613.8 702.6h0M612.8 682.6h0M607.7 657.9h0M622.0 671.9h0M644.0 690.4h0M605.9 662.2h0M634.4 663.6h0M603.6 656.8h0M625.5 662.7h0M597.6 686.5h0M596.2 645.4h0M624.0 702.1h0M638.3 690.4h0M617.0 699.6h0M633.9 675.3h0M627.0 678.5h0M597.1 683.2h0M594.9 660.2h0M593.2 678.6h0M594.4 690.5h0M597.2 690.7h0M640.2 666.8h0M636.6 664.0h0M601.5 651.3h0M589.0 668.3h0M600.1 698.2h0M626.1 674.2h0M632.8 699.5h0M604.4 670.1h0M593.1 672.7h0M619.1 662.4h0M600.7 670.0h0M606.4 673.9h0M607.4 652.4h0M608.3 650.8h0M594.7 692.4h0M610.7 677.0h0M605.2 692.5h0M613.5 685.4h0M588.9 675.3h0M593.8 647.1h0M622.1 674.7h0M598.4 657.8h0M617.2 695.7h0M607.3 664.0h0M616.7 670.3h0M654.0 689.5h0M604.9 650.3h0M625.6 696.5h0M613.7 675.8h0M603.9 686.7h0M620.9 702.8h0M623.9 662.4h0M613.8 688.0h0M599.4 662.7h0M636.4 678.9h0M616.9 673.0h0M630.1 697.4h0M613.9 652.9h0M617.2 661.4h0M592.0 690.0h0M600.6 659.3h0M637.7 665.5h0M604.6 688.7h0M599.4 668.6h0M634.2 684.4h0M606.8 659.9h0M600.4 691.7h0M631.6 696.6h0M635.0 689.7h0M616.0 680.7h0M640.8 688.2h0M592.6 655.5h0M612.7 673.6h0M596.5 680.1h0M607.6 697.9h0M638.7 669.8h0M621.4 699.7h0M617.7 689.6h0M621.0 666.6h0M617.4 664.4h0M592.2 658.2h0M611.0 699.3h0M633.1 697.5h0M619.1 684.3h0M617.9 676.5h0M618.9 668.6h0M607.0 669.1h0M637.7 657.2h0M639.5 674.7h0M634.5 682.5h0M615.0 661.2h0M634.4 693.8h0M592.9 668.9h0M594.9 678.6h0M596.2 688.1h0M625.8 684.1h0M604.1 676.5h0M611.1 663.6h0M632.6 674.0h0M630.4 663.1h0M626.2 666.9h0M635.9 665.6h0M636.6 670.0h0M643.7 683.9h0M610.9 678.9h0M597.2 670.4h0M627.5 700.5h0M598.1 674.5h0M597.3 650.6h0M642.8 688.0h0M619.5 682.5h0M602.0 671.9h0M654.2 691.9h0M619.9 655.1h0M600.7 646.6h0M607.5 691.1h0M594.3 698.7h0M621.6 689.6h0M630.6 676.0h0M604.4 698.8h0M602.1 687.9h0M660.0 697.0h0M658.3 702.5h0M663.3 705.0h0M640.0 705.8h0M637.5 707.5h0M650.0 704.2h0M645.8 707.5h0M646.7 710.0h0M655.8 711.7h0M651.7 715.0h0M641.7 696.7h0M646.7 697.5h0M669.5 720.6h0M662.5 711.0h0M665.0 716.6h0M668.7 719.3h0M666.6 710.0h0M668.4 711.7h0M668.7 715.1h0M663.6 709.7h0M662.4 716.1h0M664.3 706.7h0M666.1 720.8h0M663.6 719.8h0M667.1 712.7h0M667.5 716.7h0M661.6 713.2h0M669.6 713.2h0M663.0 718.3h0M661.6 719.3h0M665.3 713.1h0M660.8 728.3h0M665.0 726.7h0M668.3 728.3h0M670.8 733.3h0M668.3 735.0h0M665.8 730.0h0M607.5 706.7h0M614.5 711.2h0M594.2 701.7h0M590.8 711.7h0M592.5 715.0h0M587.8 722.2h0M586.7 725.0h0M583.7 730.0h0M581.3 735.5h0M578.7 740.0h0M577.5 742.8h0M576.3 745.0h0M574.2 747.7h0M567.0 780.2h0M550.3 779.6h0M560.5 773.5h0M555.3 766.4h0M553.2 775.7h0M554.4 777.5h0M555.6 780.7h0M547.6 772.1h0M557.9 766.8h0M554.7 773.8h0M537.7 767.7h0M555.0 771.2h0M544.5 765.7h0M546.5 763.0h0M570.7 776.7h0M554.4 769.2h0M562.2 769.6h0M543.3 773.7h0M559.7 778.8h0M551.6 773.9h0M561.0 780.2h0M536.1 772.4h0M567.6 776.1h0M571.0 773.5h0M549.8 764.5h0M556.5 769.6h0M550.7 782.1h0M540.4 774.8h0M560.7 767.7h0M564.2 780.2h0M556.0 783.1h0M550.7 770.5h0M551.6 772.0h0M546.9 767.8h0M543.1 768.5h0M552.2 767.3h0M564.7 776.6h0M552.5 783.4h0M567.9 772.8h0M562.0 777.5h0M558.2 777.7h0M565.3 774.7h0M541.1 764.7h0M547.3 776.6h0M557.1 772.9h0M542.8 765.6h0M541.6 770.8h0M564.0 773.3h0M548.9 778.3h0M543.0 775.6h0M565.0 771.5h0M541.1 766.6h0M538.5 772.9h0M537.1 770.3h0M546.7 779.4h0M566.4 777.3h0M562.4 771.5h0M562.7 774.6h0M555.8 776.0h0M559.2 765.6h0M548.1 770.3h0M555.9 778.7h0M560.8 770.8h0M545.0 777.5h0M559.4 771.9h0M549.9 768.7h0M573.9 774.3h0M557.3 775.1h0M536.6 775.5h0M554.2 783.0h0M548.3 790.0h0M545.0 794.2h0M547.5 795.8h0M604.2 782.5h0M603.0 786.7h0M712.0 718.0h0M718.3 720.0h0M712.5 819.2h0M715.5 501.7h0M727.0 524.2h0M711.3 535.3h0M719.5 537.2h0M713.0 546.2h0M717.8 554.7h0M730.3 559.2h0M731.2 550.8h0M729.2 545.0h0M740.0 571.3h0M750.5 565.7h0M744.2 562.8h0M746.7 557.0h0M772.8 562.5h0M777.8 565.0h0M774.2 570.8h0M775.8 567.5h0M737.8 542.8h0M738.4 551.2h0M734.0 541.2h0M736.0 541.2h0M742.9 544.9h0M746.0 543.6h0M734.0 538.6h0M733.6 534.2h0M739.2 548.3h0M742.6 548.8h0M737.8 546.8h0M736.8 544.4h0M731.6 536.4h0M739.7 555.1h0M733.8 536.9h0M741.2 546.9h0M740.2 542.3h0M738.7 544.9h0M744.6 551.6h0M739.2 561.6h0M739.8 558.5h0M742.4 550.7h0M742.8 540.4h0M745.0 547.8h0M734.9 535.6h0M743.2 552.3h0M740.4 557.0h0M740.6 544.3h0M740.4 551.4h0M736.5 562.5h0M737.5 558.4h0M736.3 538.2h0M735.2 543.7h0M741.0 539.6h0M737.8 539.0h0M741.3 555.4h0M772.1 585.6h0M759.0 585.9h0M752.1 589.2h0M742.4 603.0h0M747.1 589.2h0M770.7 595.7h0M746.7 605.1h0M721.1 598.2h0M761.4 594.8h0M729.4 602.1h0M771.3 587.8h0M705.9 588.2h0M717.1 591.9h0M765.1 594.9h0M702.5 583.8h0M745.9 594.0h0M747.0 597.2h0M771.1 583.3h0M719.0 595.0h0M741.4 605.9h0M753.8 602.4h0M704.6 584.1h0M767.3 596.2h0M753.0 593.2h0M764.2 599.7h0M769.1 596.7h0M774.2 581.3h0M747.8 604.0h0M746.3 600.7h0M771.2 591.5h0M715.7 593.4h0M757.8 597.3h0M725.1 596.5h0M763.8 581.6h0M744.3 593.3h0M714.4 598.5h0M757.7 584.6h0M721.6 596.2h0M725.6 598.1h0M773.2 592.2h0M765.9 593.0h0M761.9 583.3h0M756.8 600.6h0M723.8 599.5h0M735.2 598.8h0M749.7 592.0h0M763.5 586.6h0M767.5 594.0h0M736.6 595.8h0M760.6 587.3h0M751.7 599.6h0M699.7 582.1h0M737.2 599.1h0M744.4 600.9h0M713.5 592.1h0M735.6 602.3h0M717.5 597.8h0M772.4 590.3h0M735.8 604.9h0M755.0 597.7h0M737.9 602.4h0M761.1 597.9h0M697.7 580.7h0M740.3 593.1h0M721.7 601.5h0M750.6 601.3h0M734.1 600.8h0M755.6 587.6h0M765.2 585.9h0M725.6 602.7h0M733.2 602.8h0M763.1 597.4h0M740.4 596.2h0M746.2 599.0h0M742.7 595.7h0M714.1 594.5h0M774.7 585.8h0M764.6 583.4h0M754.5 591.4h0M767.4 583.5h0M757.8 603.7h0M708.6 590.7h0M770.6 593.4h0M706.5 585.8h0M769.6 589.5h0M752.8 600.8h0M766.5 581.8h0M770.3 586.4h0M749.7 604.1h0M764.2 589.1h0M759.2 590.4h0M761.4 592.7h0M697.9 578.8h0M774.3 583.2h0M738.0 594.8h0M742.3 590.5h0M755.7 603.0h0M709.2 588.2h0M708.3 586.8h0M751.9 598.0h0M757.2 594.9h0M769.3 599.0h0M711.8 590.8h0M710.9 592.5h0M736.2 600.7h0M703.9 586.6h0M749.8 594.7h0M758.5 593.0h0M756.0 596.3h0M713.3 597.2h0M723.3 597.8h0M752.6 603.5h0M728.2 596.6h0M762.8 601.7h0M730.7 598.3h0M756.3 589.8h0M765.8 600.1h0M740.6 603.9h0M760.3 603.2h0M742.1 593.5h0M754.0 599.3h0M738.9 598.1h0M765.2 587.6h0M762.7 591.0h0M742.4 597.7h0M715.4 596.3h0M754.2 596.2h0M769.3 584.2h0M748.7 597.6h0M759.2 594.8h0M769.0 580.3h0M748.5 590.9h0M725.8 589.2h0M732.2 588.3h0M924.5 684.0h0M941.4 669.3h0M938.0 686.0h0M949.7 644.6h0M957.2 646.6h0M929.7 679.4h0M952.0 645.0h0M936.9 666.7h0M968.3 637.5h0M940.4 674.6h0M973.6 641.9h0M964.5 645.9h0M926.1 696.3h0M960.7 644.5h0M941.4 663.2h0M940.6 676.9h0M972.7 645.8h0M959.3 633.8h0M953.1 650.4h0M944.7 674.2h0M959.5 645.2h0M953.7 642.4h0M955.1 643.6h0M961.6 647.5h0M927.8 684.6h0M925.4 688.8h0M946.8 656.3h0M925.2 675.2h0M963.5 634.9h0M923.7 694.5h0M920.2 683.1h0M947.0 667.9h0M948.2 663.7h0M932.6 684.7h0M926.2 690.8h0M929.9 684.5h0M950.5 653.5h0M937.6 677.6h0M929.3 691.5h0M930.1 689.5h0M933.8 686.7h0M956.4 662.3h0M927.3 699.6h0M922.2 677.1h0M956.3 659.0h0M964.2 651.6h0M936.5 676.1h0M937.5 664.1h0M933.7 680.9h0M980.8 633.6h0M945.8 671.0h0M921.2 695.8h0M923.9 697.8h0M949.5 650.2h0M960.2 659.1h0M944.4 666.7h0M958.2 641.5h0M969.7 634.8h0M957.1 643.6h0M965.2 653.4h0M921.1 687.9h0M967.2 645.7h0M959.4 654.2h0M953.8 643.8h0M962.3 639.5h0M926.4 698.0h0M972.0 643.5h0M928.8 674.3h0M933.4 682.9h0M936.5 663.2h0M948.6 659.9h0M941.7 675.4h0M957.3 639.8h0M977.8 636.2h0M919.4 679.4h0M937.5 671.2h0M943.5 662.0h0M928.5 680.9h0M941.0 666.0h0M981.2 636.6h0M953.1 652.6h0M932.8 691.9h0M948.4 652.2h0M920.8 691.8h0M939.6 670.7h0M970.9 647.3h0M927.3 678.7h0M970.0 644.1h0M971.8 645.0h0M922.7 686.0h0M972.8 634.9h0M936.8 709.1h0M948.5 737.1h0M955.2 723.7h0M911.5 722.0h0M992.0 764.9h0M1022.7 749.1h0M1038.8 698.0h0M950.4 771.2h0M965.8 675.1h0M951.2 703.5h0M988.2 739.5h0M970.2 715.8h0M929.1 717.5h0M985.9 695.3h0M925.9 762.8h0M911.6 780.0h0M1034.0 730.6h0M957.6 764.4h0M988.5 765.9h0M888.8 715.9h0M988.9 727.8h0M947.0 720.2h0M949.5 744.3h0M958.3 743.5h0M925.3 759.3h0M919.4 780.0h0M954.6 718.1h0M909.8 772.3h0M906.1 734.7h0M969.7 761.4h0M1014.6 709.7h0M906.9 728.5h0M966.4 660.2h0M907.5 758.6h0M900.5 708.3h0M961.1 724.1h0M988.5 699.2h0M968.6 727.1h0M954.2 751.6h0M917.9 729.6h0M956.4 775.0h0M953.9 669.8h0M943.3 774.6h0M888.6 706.3h0M1006.7 712.2h0M988.5 734.7h0M1011.5 699.0h0M976.1 722.6h0M1025.4 738.2h0M977.5 762.6h0M1014.6 750.3h0M998.7 751.5h0M1007.6 709.8h0M963.9 713.8h0M930.0 775.8h0M1006.2 714.1h0M1010.9 759.4h0M925.5 779.0h0M939.8 738.3h0M931.9 774.0h0M917.7 703.4h0M993.0 701.6h0M1013.6 738.8h0M925.5 782.0h0M931.9 757.2h0M952.4 757.9h0M947.3 688.5h0M911.3 784.7h0M936.8 768.9h0M1037.6 694.9h0M1016.1 745.9h0M992.0 717.7h0M991.4 721.8h0M966.9 723.4h0M909.1 720.2h0M1007.6 770.6h0M943.1 692.1h0M999.3 773.0h0M987.9 725.8h0M930.7 727.6h0M933.6 734.2h0M995.2 728.8h0M1020.7 748.3h0M926.7 745.0h0M964.7 729.7h0M969.0 724.0h0M958.6 753.8h0M979.7 707.4h0M1042.8 700.8h0M958.7 676.2h0M1001.9 710.4h0M1026.1 719.0h0M952.0 720.3h0M939.6 719.2h0M968.9 745.9h0M934.8 737.4h0M955.2 689.8h0M909.0 750.9h0M1009.5 725.7h0M964.4 684.0h0M975.7 715.8h0M897.9 731.9h0M927.6 709.6h0M956.9 721.0h0M972.2 772.3h0M1020.9 698.4h0M958.8 729.0h0M983.7 770.9h0M1013.8 695.9h0M998.9 726.1h0M961.3 771.4h0M915.1 732.5h0M1034.3 699.1h0M975.8 772.2h0M1029.3 702.3h0M997.3 715.3h0M947.8 690.4h0M970.3 732.6h0M917.2 742.5h0M942.5 718.8h0M947.0 738.4h0M976.1 732.3h0M970.2 739.8h0M906.7 775.5h0M1028.1 696.8h0M899.5 714.5h0M1000.8 762.7h0M1015.9 724.6h0M913.3 768.1h0M939.0 751.4h0M1009.7 752.1h0M1006.8 745.4h0M1009.7 706.2h0M987.8 702.0h0M941.8 732.4h0M1025.7 730.2h0M975.8 744.6h0M932.0 753.3h0M965.0 670.4h0M953.5 761.5h0M1034.0 695.4h0M909.5 734.1h0M1031.6 734.1h0M1008.6 716.5h0M984.8 699.3h0M1028.0 698.8h0M1035.4 694.0h0M996.4 695.1h0M946.5 756.4h0M937.3 744.7h0M983.4 721.3h0M888.3 718.1h0M1018.3 706.1h0M965.6 764.8h0M1010.1 755.4h0M915.2 739.6h0M905.7 721.2h0M951.8 775.9h0M903.0 711.7h0M942.0 706.4h0M1012.6 733.8h0M971.9 770.3h0M962.6 684.8h0M999.5 768.9h0M902.6 759.3h0M914.5 770.9h0M934.2 717.6h0M1025.6 722.4h0M1029.4 723.6h0M950.7 778.5h0M1004.5 698.1h0M973.3 760.8h0M950.9 710.4h0M986.0 777.7h0M1017.9 716.9h0M897.8 713.1h0M1025.1 693.9h0M987.4 747.3h0M946.8 712.1h0M979.7 767.7h0M1005.5 706.6h0M952.6 717.2h0M1010.3 738.7h0M940.7 723.0h0M1016.6 757.0h0M966.4 737.5h0M1011.3 731.9h0M931.3 704.7h0M1012.1 710.1h0M978.2 723.1h0M956.7 757.1h0M1013.6 735.5h0M896.5 729.1h0M953.5 783.1h0M998.5 720.9h0M916.5 755.3h0M952.1 781.3h0M945.6 685.5h0M954.2 773.5h0M1010.4 722.2h0M939.6 741.7h0M978.7 738.0h0M983.1 759.1h0M940.7 698.7h0M1001.9 751.5h0M961.1 729.1h0M981.0 759.7h0M959.9 761.3h0M916.9 710.6h0M946.5 693.1h0M977.9 765.4h0M933.5 749.2h0M897.6 723.0h0M964.2 722.5h0M984.5 723.6h0M1005.7 753.7h0M949.6 681.3h0M989.0 717.3h0M902.0 779.9h0M939.6 706.0h0M1007.0 697.0h0M917.6 770.3h0M905.7 757.5h0M1003.3 724.5h0M909.7 727.2h0M935.2 701.6h0M937.7 730.5h0M991.4 710.3h0M1019.3 739.7h0M921.1 738.2h0M925.0 752.0h0M954.3 769.4h0M1015.1 741.1h0M976.8 719.0h0M1040.8 700.2h0M975.6 736.8h0M972.1 767.5h0M1025.7 699.8h0M975.1 738.7h0M945.3 758.6h0M994.2 709.9h0M951.7 676.6h0M1009.7 700.2h0M930.3 743.1h0M951.6 749.4h0M907.8 740.6h0M961.7 709.9h0M948.7 707.1h0M1007.8 741.7h0M987.8 743.5h0M928.5 746.4h0M971.3 702.2h0M934.9 715.6h0M921.9 755.8h0M930.8 769.6h0M1033.0 714.4h0M961.1 774.8h0M926.8 776.0h0M962.7 720.9h0M983.0 755.0h0M938.2 766.5h0M929.5 759.1h0M960.7 721.3h0M1021.8 729.3h0M978.8 748.4h0M969.3 772.5h0M896.9 710.3h0M1027.9 711.2h0M998.3 744.4h0M952.9 724.5h0M974.2 712.3h0M946.0 740.5h0M1018.2 720.6h0M962.3 678.1h0M974.1 703.8h0M986.1 733.1h0M1015.8 737.2h0M918.8 719.0h0M1001.8 745.9h0M1016.5 750.2h0M953.1 680.1h0M942.7 756.8h0M1000.4 717.7h0M990.8 727.4h0M928.8 727.4h0M929.9 722.0h0M975.7 693.4h0M963.6 688.7h0M946.1 716.5h0M909.9 781.5h0M931.1 717.5h0M1012.7 706.1h0M970.9 700.1h0M1025.5 716.7h0M961.8 682.2h0M1047.9 695.4h0M943.5 730.4h0M910.2 764.3h0M981.0 748.7h0M994.5 722.0h0M903.3 738.3h0M907.1 711.4h0M966.2 700.2h0M904.6 773.9h0M957.6 712.8h0M908.2 764.5h0M985.9 716.5h0M1046.5 698.3h0M920.8 763.9h0M996.0 767.4h0M1001.4 737.3h0M1014.2 743.9h0M953.8 738.4h0M916.3 748.9h0M904.0 717.8h0M1014.6 757.7h0M959.4 696.4h0M984.8 745.1h0M995.1 745.7h0M930.2 773.0h0M981.9 762.0h0M1003.9 714.0h0M921.3 723.1h0M1027.0 725.6h0M945.6 770.8h0M988.6 756.1h0M941.1 727.5h0M1016.1 719.3h0M1016.6 704.0h0M936.1 759.3h0M996.7 756.0h0M948.9 763.8h0M966.7 740.5h0M971.9 774.9h0M917.5 700.9h0M929.2 712.2h0M959.9 666.8h0M953.0 744.7h0M997.6 698.7h0M957.1 731.9h0M1007.0 729.5h0M973.2 731.6h0M996.8 722.5h0M1017.8 725.7h0M913.0 728.5h0M947.7 728.0h0M979.8 726.0h0M951.2 699.1h0M947.3 749.4h0M1035.7 704.1h0M942.8 699.5h0M968.2 778.9h0M969.2 693.5h0M936.5 713.5h0M972.0 745.3h0M952.6 691.8h0M1014.3 748.4h0M1027.4 738.9h0M924.2 723.3h0M927.6 767.1h0M914.8 754.4h0M927.8 780.0h0M923.6 777.2h0M905.7 712.8h0M991.6 733.3h0M932.4 738.6h0M991.2 757.5h0M914.2 716.5h0M892.4 718.6h0M988.8 730.7h0M960.7 757.1h0M987.2 753.6h0M931.9 765.5h0M1000.3 730.2h0M1014.2 728.0h0M1031.7 737.6h0M957.2 706.7h0M972.4 751.0h0M945.2 728.7h0M964.0 719.1h0M938.4 772.2h0M923.0 729.1h0M954.0 726.1h0M983.5 731.1h0M886.1 704.7h0M946.2 751.0h0M979.1 750.8h0M909.1 736.6h0M914.0 726.4h0M1023.9 708.7h0M904.8 724.1h0M932.0 703.0h0M941.5 748.3h0M973.4 727.6h0M1003.7 766.0h0M1040.5 694.1h0M894.5 731.3h0M1020.2 718.3h0M1031.6 729.4h0M1018.3 744.8h0M974.7 747.3h0M937.5 762.0h0M925.3 712.0h0M918.5 774.4h0M906.7 753.4h0M936.4 719.9h0M980.6 771.3h0M1019.5 742.8h0M917.3 738.0h0M988.0 722.5h0M1035.9 728.8h0M890.6 710.4h0M995.0 758.7h0M1020.6 712.9h0M931.6 706.7h0M1009.0 734.2h0M941.2 752.9h0M1018.9 693.6h0M898.9 734.8h0M972.2 706.4h0M996.8 747.2h0M967.1 746.8h0M965.7 761.4h0M920.4 768.6h0M968.4 705.0h0M947.9 733.7h0M952.1 705.1h0M950.8 730.3h0M911.1 758.9h0M893.9 722.5h0M957.7 714.8h0M946.3 777.1h0M918.4 755.5h0M994.9 771.4h0M946.8 763.6h0M972.9 778.9h0M927.8 736.9h0M1022.3 695.0h0M976.8 755.3h0M1027.2 714.2h0M1022.5 705.3h0M991.7 770.9h0M917.0 724.2h0M964.7 664.9h0M981.9 732.2h0M913.5 775.6h0M983.0 733.9h0M935.0 754.8h0M1025.0 714.3h0M952.5 687.9h0M916.4 718.0h0M913.3 734.5h0M919.3 741.7h0M960.9 755.1h0M922.0 735.4h0M1037.2 726.4h0M1017.4 734.5h0M957.7 738.8h0M986.0 762.6h0M974.6 720.6h0M1022.3 740.7h0M963.5 775.2h0M974.7 700.7h0M1002.4 739.1h0M947.2 697.3h0M941.5 769.3h0M977.8 693.9h0M984.0 751.5h0M963.9 731.6h0M931.0 733.7h0M919.6 728.2h0M976.3 776.5h0M961.6 695.2h0M941.8 744.4h0M925.5 713.9h0M980.6 737.6h0M959.8 683.8h0M943.3 688.1h0M910.8 766.4h0M960.2 687.9h0M888.8 713.7h0M954.0 703.2h0M1002.2 772.9h0M955.7 748.2h0M1000.2 706.2h0M940.0 780.0h0M922.5 712.8h0M940.1 712.7h0M908.5 745.3h0M953.5 777.1h0M974.5 763.4h0M906.7 778.4h0M1010.8 704.4h0M963.2 735.7h0M1008.1 762.0h0M917.7 783.6h0M993.7 737.7h0M938.8 715.0h0M947.1 730.1h0M978.6 718.2h0M928.0 739.7h0M990.2 773.3h0M917.0 775.7h0M1031.8 709.5h0M986.2 711.8h0M973.0 714.8h0M886.5 707.5h0M958.7 701.9h0M910.3 777.7h0M917.2 766.2h0M981.8 712.3h0M936.4 772.5h0M992.2 724.9h0M994.1 741.2h0M1012.2 720.0h0M998.8 747.5h0M931.9 776.3h0M948.6 718.0h0M945.4 698.5h0M1020.4 734.0h0M914.9 779.7h0M920.0 773.3h0M1012.7 754.1h0M936.1 740.4h0M967.3 694.2h0M957.7 685.0h0M976.9 696.0h0M961.4 675.2h0M957.4 717.4h0M958.0 750.5h0M915.2 765.1h0M926.8 753.2h0M917.2 778.6h0M926.0 774.2h0M995.8 717.0h0M983.3 703.4h0M934.4 742.2h0M925.2 720.3h0M1026.8 736.5h0M983.3 695.5h0M977.8 742.1h0M950.5 718.5h0M991.2 703.4h0M943.7 722.0h0M986.2 737.0h0M989.3 753.2h0M931.8 730.1h0M924.9 736.1h0M954.6 683.0h0M985.1 759.7h0M950.3 684.9h0M949.8 766.9h0M905.3 710.2h0M964.2 710.0h0M901.8 713.2h0M1009.4 713.0h0M955.5 694.4h0M932.2 745.6h0M899.5 736.6h0M962.0 776.7h0M982.8 698.7h0M957.8 726.6h0M1025.3 711.2h0M939.1 701.0h0M1006.9 717.8h0M935.2 707.1h0M1000.3 698.7h0M992.2 715.0h0M932.1 760.5h0M969.2 711.7h0M904.0 777.0h0M978.5 701.5h0M998.4 765.2h0M1024.6 725.2h0M942.0 764.5h0M1002.0 696.9h0M980.6 710.8h0M926.1 739.9h0M987.9 767.9h0M1030.4 726.9h0M904.7 742.0h0M1000.7 767.1h0M907.6 772.3h0M1027.3 706.1h0M993.7 706.6h0M906.3 737.6h0M952.6 700.7h0M973.1 718.7h0M960.5 705.3h0M988.0 750.2h0M1011.0 734.9h0M912.0 731.8h0M1020.4 709.7h0M985.7 709.9h0M1015.0 701.7h0M916.1 715.7h0M948.8 678.3h0M936.0 725.3h0M967.9 701.7h0M945.0 703.0h0M935.9 751.7h0M945.6 695.3h0M967.4 768.5h0M932.0 714.3h0M895.2 709.0h0M911.7 748.6h0M1003.1 704.8h0M1003.1 720.5h0M952.7 682.0h0M983.2 739.3h0M957.2 693.6h0M991.8 698.0h0M911.0 753.9h0M965.2 678.9h0M924.4 718.0h0M921.4 721.0h0M1002.3 699.7h0M905.6 716.3h0M908.6 770.7h0M925.7 770.7h0M980.5 702.4h0M1004.0 708.4h0M927.0 707.3h0M997.4 737.3h0M967.0 772.3h0M1005.8 701.2h0M972.5 753.0h0M985.9 721.8h0M901.4 754.8h0M906.4 784.4h0M964.2 754.2h0M904.4 762.2h0M961.0 742.6h0M1007.6 764.4h0M932.0 779.5h0M963.4 745.0h0M934.3 731.1h0M960.2 777.9h0M986.3 774.8h0M918.2 760.5h0M1011.3 694.6h0M933.2 758.8h0M1004.0 749.5h0M960.7 714.7h0M1031.3 722.1h0M944.0 735.5h0M969.0 755.8h0M1014.6 694.0h0M934.1 709.4h0M923.3 741.5h0M953.8 730.2h0M886.3 710.1h0M909.5 714.7h0M983.6 708.8h0M959.1 719.0h0M965.4 681.3h0M938.7 728.6h0M911.8 717.0h0M941.9 750.2h0M966.1 703.7h0M918.0 713.1h0M900.5 729.4h0M944.2 723.9h0M980.2 720.2h0M960.4 748.4h0M922.4 727.1h0M970.1 709.9h0M1031.9 703.9h0M998.4 696.3h0M957.5 779.1h0M965.5 774.1h0M953.0 714.8h0M940.9 757.8h0M974.6 708.9h0M899.8 719.1h0M980.0 740.4h0M925.6 730.7h0M990.5 701.2h0M930.1 753.6h0M921.9 732.2h0M1018.8 701.7h0M992.4 739.1h0M952.9 673.7h0M924.4 715.7h0M925.0 709.7h0M1029.5 737.8h0M912.3 705.0h0M987.3 757.6h0M966.4 720.7h0M1016.6 698.6h0M956.6 686.9h0M1011.3 729.0h0M987.9 762.0h0M964.3 757.2h0M1039.5 703.0h0M1033.4 707.2h0M960.5 765.3h0M900.5 722.9h0M893.4 726.2h0M914.3 777.4h0M962.7 781.6h0M920.5 715.2h0M994.4 762.0h0M985.1 719.6h0M977.1 708.4h0M968.4 696.0h0M968.0 759.6h0M953.0 766.8h0M920.6 706.4h0M961.7 668.2h0M967.2 706.6h0M1002.2 694.4h0M1025.0 733.2h0M1029.8 735.8h0M938.8 711.2h0M1010.4 761.4h0M895.1 720.0h0M900.2 732.4h0M909.9 774.6h0M960.0 752.3h0M895.4 724.1h0M936.8 706.0h0M912.1 764.5h0M949.6 697.9h0M930.7 708.6h0M1044.9 699.4h0M927.7 750.2h0M958.5 690.5h0M914.3 758.9h0M944.8 733.6h0M904.6 736.5h0M920.8 747.2h0M977.4 774.4h0M1019.4 750.8h0M905.4 770.1h0M1005.8 737.9h0M913.6 751.2h0M948.0 715.0h0M996.5 701.7h0M906.5 767.4h0M898.0 724.9h0M1017.8 747.7h0M995.1 750.2h0M971.1 756.2h0M1009.9 746.8h0M966.2 673.2h0M1021.6 722.8h0M998.1 712.2h0M1003.8 762.7h0M956.3 753.6h0M922.6 772.7h0M898.3 727.9h0M943.8 710.0h0M977.9 769.8h0M969.9 743.5h0M901.3 737.3h0M996.4 743.5h0M941.2 710.2h0M981.8 743.3h0M1029.5 733.5h0M911.8 741.8h0M895.0 713.2h0M982.9 749.0h0M997.1 704.1h0M1006.1 699.3h0M956.9 673.1h0M941.8 736.8h0M1029.0 729.6h0M996.6 752.9h0M966.3 717.7h0M994.9 705.1h0M949.2 692.1h0M912.8 737.1h0M1015.8 713.2h0M950.1 758.5h0M940.4 761.5h0M906.2 760.5h0M965.7 695.3h0M1007.7 759.9h0M977.3 706.3h0M903.1 770.6h0M949.1 746.7h0M911.7 714.7h0M987.6 705.1h0M956.8 709.7h0M916.2 751.4h0M946.5 753.6h0M924.3 757.5h0M964.0 771.2h0M1000.8 703.8h0M962.0 751.0h0M957.0 770.4h0M1008.0 720.6h0M889.0 722.7h0M911.1 761.1h0M1007.7 757.0h0M942.7 779.2h0M961.3 734.2h0M964.8 701.7h0M980.6 728.8h0M975.8 752.3h0M940.9 776.0h0M979.7 734.8h0M905.1 749.4h0M971.4 723.8h0M964.7 748.7h0M927.6 772.3h0M944.9 764.1h0M991.2 767.4h0M1014.0 715.5h0M925.0 728.1h0M953.0 734.1h0M1004.6 716.9h0M934.3 763.6h0M1016.1 731.8h0M1011.2 707.7h0M1011.2 741.6h0M994.7 696.8h0M991.1 693.4h0M993.9 719.1h0M994.0 726.3h0M949.5 725.9h0M1003.1 767.9h0M948.7 755.2h0M923.0 749.5h0M972.4 697.5h0M971.8 737.0h0M1031.7 695.5h0M936.7 732.3h0M1009.7 719.1h0M942.3 695.0h0M1018.7 736.8h0M909.2 738.7h0M1005.8 732.7h0M994.3 724.0h0M1031.6 717.0h0M991.1 747.0h0M916.6 757.3h0M1005.7 719.4h0M960.4 699.2h0M915.2 767.6h0M942.7 746.6h0M921.1 708.9h0M934.8 704.7h0M971.8 747.7h0M1018.1 696.0h0M962.0 759.5h0M912.4 723.7h0M1016.5 694.4h0M920.2 759.3h0M907.4 731.6h0M901.7 720.4h0M967.7 731.2h0M917.5 746.1h0M976.5 757.3h0M1022.5 737.4h0M967.8 698.3h0M1021.9 744.4h0M984.2 773.0h0M905.0 785.7h0M922.9 707.8h0M934.9 747.4h0M918.7 736.2h0M904.8 732.0h0M953.6 711.3h0M1002.0 764.8h0M910.8 719.0h0M926.6 733.2h0M973.5 757.1h0M1006.1 735.2h0M990.8 762.9h0M981.0 754.4h0M923.1 762.0h0M1028.4 704.4h0M1017.8 711.4h0M961.9 718.8h0M949.8 687.1h0M904.9 726.6h0M967.8 715.2h0M952.1 742.8h0M1021.4 751.4h0M1035.4 723.5h0M910.1 709.0h0M930.4 738.8h0M918.0 722.1h0M964.2 738.6h0M955.6 700.6h0M905.4 772.1h0M1003.5 742.0h0M983.5 715.1h0M965.7 734.8h0M914.4 708.2h0M1005.0 756.6h0M943.6 748.4h0M908.9 757.3h0M1022.9 698.5h0M1024.4 702.5h0M976.8 711.5h0M973.8 773.7h0M995.7 764.3h0M944.3 708.0h0M947.0 768.9h0M901.9 716.8h0M982.3 775.2h0M906.7 748.0h0M909.1 723.2h0M903.1 708.8h0M952.1 695.4h0M1021.7 701.9h0M967.3 709.1h0M992.6 712.2h0M995.4 712.8h0M993.5 753.8h0M962.7 704.5h0M952.1 754.1h0M902.9 741.2h0M929.9 719.5h0M1036.8 697.1h0M949.4 740.9h0M958.2 741.1h0M939.1 764.4h0M929.6 715.6h0M947.2 703.8h0M1041.9 697.7h0M996.1 738.8h0M928.1 756.2h0M1018.6 756.6h0M955.4 742.6h0M1012.0 714.5h0M892.9 720.5h0M1008.2 747.9h0M989.2 719.7h0M959.4 769.5h0M965.4 744.1h0M948.7 781.2h0M942.9 754.9h0M1001.0 749.7h0M974.6 759.3h0M966.0 663.4h0M983.7 711.1h0M953.1 747.9h0M951.4 761.8h0M1014.2 730.8h0M1027.6 721.8h0M978.0 720.5h0M977.9 731.3h0M951.4 774.0h0M994.0 732.6h0M890.6 726.8h0M982.1 705.3h0M1020.0 729.7h0M1019.8 725.3h0M1020.0 707.2h0M963.2 692.9h0M893.0 710.3h0M952.7 740.1h0M948.0 685.4h0M926.1 723.5h0M1004.4 710.6h0M962.5 740.0h0M940.8 766.5h0M902.8 752.0h0M943.7 771.9h0M985.2 747.3h0M1006.8 750.6h0M1011.9 726.6h0M956.7 768.3h0M1041.9 703.7h0M960.6 701.5h0M988.8 776.3h0M916.5 780.8h0M984.5 767.5h0M1007.3 725.7h0M980.6 764.7h0M981.0 695.4h0M936.5 757.0h0M970.6 776.4h0M975.7 766.6h0M932.9 769.9h0M944.9 745.8h0M957.4 735.5h0M922.0 767.5h0M913.7 748.8h0M942.1 725.8h0M1003.2 753.9h0M957.0 669.9h0M892.5 729.7h0M1007.7 693.8h0M960.1 694.0h0M956.1 675.3h0M998.1 758.2h0M974.3 740.8h0M996.0 731.8h0M942.4 734.5h0M945.9 744.1h0M944.0 716.1h0M943.4 761.1h0M936.8 779.4h0M959.1 763.2h0M965.4 726.0h0M1018.2 708.2h0M955.3 766.0h0M1008.7 698.1h0M994.4 700.1h0M1018.6 723.3h0M984.0 717.2h0M930.9 763.2h0M965.7 714.6h0M993.2 735.7h0M1017.1 753.1h0M1016.3 722.5h0M977.9 753.5h0M980.0 714.0h0M1002.9 717.9h0M944.3 712.3h0M1030.9 719.1h0M934.1 745.5h0M977.2 698.7h0M912.0 756.4h0M963.2 680.3h0M1016.1 708.3h0M1033.4 723.4h0M999.2 714.8h0M1000.7 712.1h0M972.0 764.3h0M989.7 740.9h0M973.8 749.5h0M989.1 748.3h0M920.8 742.9h0M902.9 722.8h0M937.6 697.9h0M965.6 667.4h0M965.4 769.6h0M916.9 731.8h0M903.4 767.7h0M997.4 729.1h0M1026.4 697.7h0M952.8 779.2h0M1010.9 764.1h0M903.4 735.0h0M915.0 724.5h0M901.3 726.3h0M976.4 729.3h0M989.3 707.0h0M1001.0 770.5h0M964.2 759.9h0M1004.6 696.0h0M961.3 712.1h0M891.1 723.4h0M958.3 758.6h0M963.9 698.0h0M959.3 782.3h0M929.9 766.7h0M943.5 752.1h0M920.1 730.1h0M917.5 705.5h0M1000.1 740.4h0M1007.2 705.5h0M927.5 760.8h0M982.0 767.5h0M947.9 757.9h0M909.4 748.5h0M937.7 693.6h0M906.1 745.6h0M1016.8 743.3h0M1035.9 708.5h0M917.7 740.5h0M981.1 699.8h0M1002.0 702.1h0M930.0 741.2h0M920.3 751.3h0M961.6 690.7h0M926.4 717.5h0M907.8 780.7h0M1008.2 738.8h0M1028.3 717.1h0M917.2 772.8h0M949.2 704.6h0M954.4 708.6h0M985.7 701.2h0M950.2 751.4h0M996.5 761.9h0M1005.2 747.1h0M915.5 745.8h0M997.1 741.0h0M1032.0 731.3h0M921.0 753.7h0M993.6 763.8h0M993.1 769.4h0M954.9 744.9h0M970.6 765.7h0M948.7 701.3h0M1034.8 721.2h0M936.0 727.5h0M934.4 713.2h0M966.6 711.9h0M915.0 782.0h0M1005.1 760.7h0M899.4 721.3h0M986.7 697.7h0M938.4 777.4h0M903.0 744.1h0M954.5 721.3h0M953.3 764.1h0M976.9 739.8h0M997.8 706.4h0M955.0 781.6h0M1002.6 756.0h0M977.4 735.0h0M939.4 759.8h0M955.3 771.4h0M964.1 780.1h0M932.1 711.3h0M989.1 760.0h0M965.6 750.9h0M961.3 737.4h0M947.6 681.2h0M1042.5 694.5h0M971.7 734.4h0M952.2 722.4h0M963.5 676.3h0M921.4 779.7h0M951.1 727.0h0M911.6 745.4h0M974.8 717.9h0M944.3 777.9h0M1003.5 730.7h0M907.1 719.2h0M969.9 768.5h0M970.0 697.7h0M939.8 695.1h0M1033.6 711.3h0M989.9 725.3h0M908.9 762.6h0M902.4 774.3h0M934.0 722.9h0M998.8 723.8h0M999.2 754.8h0M957.6 704.9h0M897.0 717.9h0M1001.5 708.1h0M962.8 768.8h0M996.0 769.8h0M952.1 769.8h0M936.5 716.7h0M953.0 685.8h0M946.9 746.4h0M924.9 764.5h0M958.3 682.1h0M1020.3 715.1h0M937.2 701.1h0M917.9 752.8h0M904.7 759.2h0M968.5 770.3h0M908.3 716.2h0M928.5 725.3h0M1044.3 697.2h0M950.0 732.1h0M935.1 699.4h0M1000.1 757.8h0M958.6 678.2h0M939.3 734.5h0M889.9 719.7h0M1038.5 709.0h0M1036.9 699.6h0M897.9 707.4h0M971.7 711.5h0M936.4 711.0h0M1005.5 742.1h0M1008.0 736.5h0M920.1 703.9h0M985.7 725.4h0M959.5 732.7h0M954.4 697.2h0M993.0 756.7h0M1010.8 766.3h0M969.8 758.2h0M973.9 770.6h0M898.7 709.4h0M946.1 723.8h0M997.0 772.6h0M1043.4 702.6h0M932.0 741.7h0M908.8 767.2h0M939.0 774.8h0M971.1 728.3h0M931.9 722.8h0M1012.8 702.0h0M913.5 721.1h0M915.3 743.1h0M960.9 680.0h0M968.1 774.8h0M932.4 736.3h0M920.8 740.3h0M992.0 741.7h0M925.1 768.7h0M996.0 735.7h0M969.4 721.6h0M926.0 747.7h0M1007.4 768.2h0M957.3 773.2h0M926.0 742.0h0M1040.8 706.2h0M990.7 713.2h0M917.4 707.9h0M1005.9 727.8h0M903.5 748.3h0M943.8 739.2h0M1033.7 702.0h0M944.2 726.7h0M963.5 673.4h0M942.1 703.9h0M972.0 741.0h0M1023.6 722.0h0M946.6 708.2h0M920.2 733.8h0M997.3 734.0h0M913.9 712.1h0M923.8 780.4h0M961.5 745.8h0M1009.5 730.7h0M959.8 739.3h0M983.8 764.5h0M1030.9 706.2h0M940.1 725.8h0M1012.0 737.0h0M1019.5 752.9h0M979.2 756.9h0M965.2 686.5h0M986.3 728.0h0M979.8 697.1h0M982.0 746.5h0M925.0 725.3h0M908.7 729.4h0M968.5 718.5h0M902.7 781.9h0M934.0 727.9h0M992.6 751.2h0M945.7 765.8h0M957.2 723.1h0M1012.8 746.2h0M987.2 770.4h0M914.8 756.6h0M988.3 772.1h0M934.6 773.8h0M978.9 779.1h0M976.8 750.4h0M980.1 722.1h0M966.2 754.2h0M965.5 767.2h0M927.6 730.3h0M908.2 776.7h0M956.5 681.5h0M1036.9 702.4h0M915.5 720.5h0M901.6 777.1h0M964.5 708.1h0M891.1 712.2h0M973.7 743.8h0M976.6 760.4h0M941.8 697.0h0M913.2 739.9h0M976.4 725.9h0M1030.5 712.1h0M938.6 754.5h0M988.1 711.9h0M958.5 671.2h0M957.4 783.6h0M922.1 770.2h0M969.0 750.7h0M995.6 707.4h0M1000.9 725.9h0M1030.4 714.5h0M994.1 715.4h0M950.7 764.4h0M1003.3 747.4h0M1012.8 717.6h0M978.7 759.7h0M964.6 706.1h0M996.6 725.3h0M1022.2 746.4h0M945.4 731.6h0M934.6 769.0h0M974.2 694.6h0M937.6 749.8h0M983.5 700.9h0M1023.2 732.1h0M1019.6 731.9h0M998.8 701.8h0M975.7 770.1h0M983.5 735.8h0M1047.2 693.5h0M945.7 721.8h0M933.6 752.0h0M962.4 686.9h0M920.6 782.7h0M961.4 697.2h0M951.9 707.2h0M911.8 706.9h0M990.7 735.4h0M949.9 734.0h0M903.7 779.0h0M1023.9 735.1h0M1028.6 708.9h0M1032.9 725.4h0M925.2 705.2h0M1000.0 733.8h0M931.5 749.4h0M1027.3 727.5h0M1002.1 759.4h0M983.8 741.6h0M958.0 746.4h0M930.3 735.5h0M1003.2 734.9h0M1001.9 729.2h0M949.1 772.8h0M914.2 773.4h0M919.3 777.5h0M907.8 782.6h0M926.2 755.1h0M977.2 767.9h0M989.1 732.8h0M929.1 748.6h0M1023.9 729.5h0M1022.6 726.9h0M970.7 752.0h0M914.0 714.5h0M1016.1 706.3h0M992.5 699.7h0M928.1 734.8h0M995.8 719.5h0M927.3 719.6h0M951.0 713.8h0M955.3 759.2h0M965.3 692.5h0M911.2 735.1h0M1006.6 703.2h0M960.3 726.8h0M945.5 737.2h0M917.0 727.3h0M921.7 717.3h0M938.0 737.2h0M956.6 696.5h0M981.9 769.9h0M1014.8 704.9h0M913.9 784.2h0M973.8 735.1h0M933.8 720.7h0M937.6 722.4h0M968.8 734.1h0M949.1 709.7h0M905.2 782.5h0M969.4 737.4h0M953.6 693.7h0M1045.8 696.0h0M994.7 774.8h0M972.9 725.6h0M1022.6 712.5h0M987.1 720.2h0M1020.2 705.2h0M970.4 705.3h0M944.2 741.8h0M957.6 762.0h0M907.4 743.0h0M948.3 775.6h0M954.1 713.1h0M1012.8 760.7h0M943.7 744.0h0M929.7 750.8h0M975.3 742.6h0M1010.5 750.4h0M941.9 716.9h0M948.5 759.9h0M936.6 776.0h0M933.7 780.5h0M1022.4 720.0h0M914.7 703.8h0M1005.0 704.5h0M923.3 783.0h0M1026.9 731.7h0M976.5 746.6h0M954.5 728.2h0M967.5 743.3h0M981.2 716.6h0M946.2 701.5h0M948.6 752.5h0M923.4 733.4h0M1021.9 735.5h0M928.2 774.6h0M954.9 672.0h0M941.2 692.9h0M944.9 754.6h0M919.1 726.0h0M971.5 762.1h0M1016.8 727.5h0M959.6 779.7h0M945.9 690.9h0M984.5 757.4h0M1011.7 724.1h0M921.5 711.0h0M962.7 716.9h0M933.8 766.0h0M982.4 718.7h0M945.4 718.8h0M998.4 717.0h0M990.7 730.2h0M904.8 730.1h0M1003.7 726.7h0M944.3 769.3h0M891.3 714.2h0M941.8 690.1h0M920.6 775.8h0M1024.2 719.2h0M942.1 712.1h0M989.6 714.8h0M917.4 763.6h0M963.2 764.9h0M919.6 744.4h0M940.7 730.5h0M954.9 685.8h0M961.0 731.0h0M920.6 712.7h0M1014.8 718.0h0M922.5 774.7h0M932.0 725.3h0M912.1 770.7h0M916.4 735.5h0M999.7 735.8h0M945.7 714.1h0M978.6 715.7h0M991.7 708.1h0M954.3 732.5h0M959.2 722.8h0M960.2 708.6h0M895.1 734.2h0M1025.5 704.1h0M949.5 723.0h0M990.6 705.6h0M1005.1 751.7h0M1000.8 720.6h0M988.6 694.8h0M924.2 754.6h0M941.7 714.7h0M1039.8 657.1h0M994.5 657.2h0M976.0 658.2h0M1004.8 638.5h0M1001.6 641.6h0M996.8 676.3h0M983.4 663.2h0M974.1 662.5h0M1022.8 655.2h0M998.3 638.9h0M973.5 658.6h0M1007.1 662.5h0M983.3 686.3h0M1005.9 686.9h0M1025.8 643.9h0M980.5 662.2h0M1030.1 671.9h0M1043.2 689.8h0M987.1 678.6h0M1001.0 634.9h0M1037.6 665.1h0M989.2 680.8h0M979.8 670.4h0M981.3 655.4h0M1005.6 656.8h0M1003.9 651.2h0M985.5 663.5h0M994.5 660.1h0M982.8 690.2h0M997.5 630.2h0M1039.1 675.3h0M1009.2 630.6h0M1024.3 667.9h0M1007.5 645.1h0M1004.2 665.0h0M1025.4 689.0h0M1009.0 648.9h0M984.7 670.9h0M1013.0 639.8h0M979.1 654.2h0M1041.1 692.1h0M974.8 686.5h0M1030.9 684.1h0M1028.7 642.0h0M1040.5 667.9h0M981.7 665.3h0M1009.5 677.3h0M980.8 668.2h0M979.5 678.4h0M1002.3 655.8h0M1046.5 693.3h0M990.4 650.7h0M1028.5 660.5h0M1013.2 668.5h0M1044.2 652.4h0M1022.9 673.0h0M1004.1 629.2h0M973.8 690.6h0M1036.4 677.0h0M1009.0 635.1h0M993.5 673.2h0M1014.5 652.8h0M1037.4 692.1h0M1028.6 677.1h0M1010.9 663.4h0M1005.5 669.8h0M991.2 643.1h0M1034.9 672.4h0M1002.8 647.8h0M1035.4 690.9h0M1016.8 660.5h0M1005.0 630.9h0M970.9 669.2h0M973.7 675.0h0M988.0 665.5h0M1036.9 679.2h0M1033.6 692.6h0M1006.9 668.7h0M981.5 687.7h0M995.1 671.5h0M1017.9 672.0h0M1012.5 675.7h0M1008.7 666.8h0M1049.7 671.5h0M997.8 684.2h0M1045.0 683.4h0M1000.1 662.9h0M995.6 625.8h0M1003.3 642.3h0M968.0 681.6h0M1021.0 677.8h0M1033.4 654.8h0M990.5 639.4h0M1011.9 638.1h0M1001.0 677.2h0M1023.8 650.9h0M983.3 683.3h0M1043.7 672.1h0M1013.8 641.3h0M986.6 642.8h0M1018.9 668.2h0M1026.1 654.6h0M1012.6 642.2h0M971.7 659.5h0M1012.1 682.1h0M996.9 655.1h0M990.0 658.2h0M999.9 679.6h0M986.7 655.0h0M977.0 684.9h0M1006.6 692.9h0M1004.3 653.9h0M1024.7 659.6h0M982.3 645.7h0M1047.0 667.6h0M1024.1 663.1h0M1039.1 665.8h0M998.8 628.3h0M1001.9 687.6h0M1023.9 670.1h0M995.6 645.8h0M984.8 683.6h0M997.4 652.0h0M1006.7 641.2h0M967.0 686.7h0M999.8 675.3h0M975.5 674.4h0M995.1 681.3h0M1001.9 637.7h0M1007.7 679.6h0M996.5 666.8h0M980.3 680.7h0M1034.8 689.3h0M990.5 672.0h0M1033.3 679.5h0M997.1 632.9h0M970.6 661.7h0M1036.3 681.7h0M1042.1 656.6h0M970.0 665.9h0M1013.9 684.9h0M1002.9 684.8h0M1029.7 681.1h0M1027.8 663.9h0M992.2 681.9h0M969.6 692.4h0M984.0 675.8h0M1030.8 689.8h0M991.9 683.8h0M984.8 656.8h0M975.2 680.7h0M1008.3 691.4h0M973.6 678.0h0M1015.3 668.9h0M982.7 669.8h0M969.7 659.1h0M1039.3 673.8h0M1028.9 667.6h0M1046.4 688.6h0M1036.9 653.1h0M990.9 676.5h0M1002.1 673.5h0M991.5 687.9h0M1043.8 692.2h0M1012.1 644.8h0M1027.1 690.0h0M1020.3 658.7h0M1031.9 678.2h0M1020.0 684.8h0M1002.1 668.3h0M977.7 651.9h0M1019.7 641.5h0M1047.4 673.0h0M1011.7 658.7h0M1030.0 653.0h0M992.9 685.6h0M995.7 649.3h0M1005.5 680.2h0M1009.2 661.9h0M980.5 660.5h0M999.6 640.5h0M1000.8 648.2h0M976.3 678.5h0M973.2 687.0h0M988.7 650.7h0M1005.3 645.3h0M1000.5 661.1h0M986.4 684.6h0M993.9 625.7h0M993.3 634.6h0M1017.2 677.4h0M1010.3 671.2h0M983.7 659.3h0M1017.3 675.1h0M1037.0 667.1h0M992.9 643.2h0M977.5 682.4h0M1044.7 685.1h0M1027.5 671.4h0M1023.4 692.8h0M1002.6 665.8h0M1007.7 671.7h0M989.6 654.9h0M981.1 690.8h0M987.9 630.4h0M1038.9 680.6h0M1025.9 645.5h0M1036.3 656.9h0M977.3 671.0h0M1021.7 650.4h0M982.1 684.6h0M1026.0 663.0h0M985.4 692.6h0M1020.6 661.9h0M1018.8 681.2h0M1015.7 648.7h0M984.3 651.3h0M1009.7 656.0h0M980.6 657.0h0M989.5 682.6h0M1006.6 634.8h0M999.0 646.6h0M1008.6 687.2h0M1004.9 643.0h0M995.1 642.6h0M976.1 688.8h0M1011.4 660.6h0M1026.9 677.1h0M985.7 661.8h0M1014.1 687.6h0M981.1 675.9h0M998.5 661.3h0M972.7 682.2h0M1025.1 647.5h0M1028.8 662.8h0M1001.8 646.0h0M1044.7 677.1h0M988.6 671.4h0M967.5 689.3h0M995.0 631.4h0M1041.6 679.1h0M1005.0 655.2h0M1005.0 659.7h0M1043.9 687.7h0M968.8 664.2h0M1020.2 692.9h0M988.4 638.4h0M1033.7 661.1h0M1010.0 674.0h0M1039.5 671.9h0M1031.5 658.3h0M990.3 663.6h0M987.4 628.4h0M1022.7 640.7h0M983.0 647.4h0M1032.3 662.4h0M990.6 628.4h0M992.3 631.4h0M1014.1 648.3h0M1028.3 656.6h0M1002.5 631.5h0M1019.4 675.5h0M981.3 671.6h0M1045.7 678.7h0M1013.4 663.5h0M1027.4 649.5h0M1000.6 630.8h0M1022.9 664.4h0M993.0 656.9h0M992.0 651.9h0M999.0 691.6h0M1018.3 643.3h0M1005.1 684.1h0M995.2 687.4h0M995.0 636.5h0M973.5 665.8h0M1027.8 673.0h0M1028.8 655.0h0M1036.9 674.4h0M985.4 659.1h0M1035.1 655.6h0M1012.4 684.3h0M990.6 640.9h0M998.7 658.4h0M1044.0 666.0h0M1041.3 674.5h0M1039.2 662.7h0M1017.4 693.0h0M1036.1 683.9h0M1025.2 693.2h0M982.6 649.7h0M1007.1 653.9h0M991.4 661.0h0M1031.9 640.4h0M1001.0 670.4h0M1016.1 688.9h0M991.4 633.9h0M998.1 671.9h0M1025.3 661.3h0M1038.7 669.9h0M1008.6 675.0h0M1033.6 681.6h0M1017.7 687.5h0M1040.3 654.0h0M968.0 684.8h0M1046.6 664.3h0M997.4 679.0h0M1006.5 646.8h0M1007.0 677.9h0M991.8 626.8h0M970.3 682.3h0M1022.3 645.5h0M996.8 686.2h0M974.5 671.1h0M1012.8 646.9h0M968.7 657.7h0M1033.6 676.4h0M998.1 650.2h0M1040.7 652.0h0M1048.4 665.9h0M1026.5 646.9h0M1007.1 676.1h0M1001.3 639.1h0M1015.2 678.4h0M1013.0 628.7h0M970.4 678.5h0M1024.7 664.5h0M1024.5 654.7h0M973.4 669.3h0M971.3 671.7h0M1015.1 680.8h0M968.7 678.2h0M1029.3 687.7h0M1024.7 687.6h0M1005.6 674.6h0M1021.1 674.6h0M972.7 684.7h0M1046.4 681.4h0M1016.3 646.6h0M1033.0 651.8h0M993.0 675.0h0M966.7 675.1h0M999.6 654.4h0M1019.2 645.8h0M1025.7 680.8h0M1003.8 658.5h0M984.9 687.0h0M987.2 693.3h0M998.2 636.0h0M1006.0 666.3h0M1050.3 667.3h0M1037.0 687.5h0M1029.6 645.2h0M992.8 648.6h0M971.9 679.0h0M989.1 668.8h0M987.6 691.5h0M1017.6 656.7h0M977.3 692.9h0M1014.0 672.6h0M1001.5 652.5h0M1029.4 685.9h0M1018.9 650.8h0M1044.1 681.4h0M1038.6 651.8h0M1021.7 680.8h0M1008.8 660.5h0M1015.9 670.9h0M980.4 647.7h0M993.6 639.9h0M991.3 630.0h0M1020.1 691.1h0M1017.7 641.9h0M1005.0 636.5h0M1031.3 660.0h0M1042.8 658.8h0M974.8 692.2h0M989.6 652.5h0M1001.0 685.3h0M984.9 672.7h0M1039.0 690.2h0M1031.3 668.3h0M1043.3 674.4h0M997.7 648.4h0M978.9 686.4h0M1030.8 665.8h0M990.4 684.2h0M1029.7 679.3h0M1042.9 667.9h0M1010.2 687.2h0M1000.4 667.2h0M1039.1 682.6h0M993.6 653.1h0M991.3 623.6h0M1032.0 682.7h0M978.2 661.3h0M996.9 660.7h0M997.8 690.8h0M998.8 678.0h0M1040.7 683.0h0M1012.5 690.8h0M978.8 667.8h0M1031.4 693.1h0M1008.7 668.4h0M1029.1 664.7h0M994.8 629.3h0M979.6 664.1h0M983.3 680.8h0M976.6 665.1h0M996.2 662.3h0M1025.0 675.4h0M999.2 659.9h0M892.8 623.0h0M898.3 696.7h0M1041.3 710.0h0M1050.8 697.2h0M899.7 543.8h0M896.7 546.3h0M883.2 572.9h0M888.1 564.5h0M886.3 577.1h0M889.9 562.1h0M885.5 571.6h0M886.5 575.5h0M884.7 576.8h0M887.5 568.7h0M891.5 562.9h0M887.7 562.8h0M884.2 578.6h0M890.1 565.3h0M886.3 582.7h0M885.7 574.0h0M885.4 585.4h0M887.1 572.5h0M891.6 564.6h0M884.6 581.9h0M186.4 538.5h0M159.5 556.3h0M165.1 541.5h0M212.3 518.1h0M166.8 558.9h0M198.1 531.6h0M186.3 522.5h0M185.9 503.7h0M160.7 548.2h0M185.1 562.6h0M180.5 530.4h0M187.6 547.2h0M169.4 543.5h0M213.9 506.0h0M180.8 508.1h0M165.5 525.7h0M182.4 549.9h0M177.1 564.2h0M188.6 556.4h0M203.9 505.7h0M208.5 513.2h0M173.9 540.0h0M197.4 535.8h0M209.3 516.2h0M177.7 537.8h0M220.0 509.8h0M195.8 562.2h0M165.6 545.9h0M176.6 557.3h0M187.3 566.5h0M195.7 519.0h0M191.9 502.5h0M162.4 554.1h0M194.9 546.8h0M169.3 555.0h0M168.0 550.6h0M185.1 515.7h0M214.1 527.2h0M173.6 555.1h0M186.0 544.4h0M194.0 563.0h0M176.8 549.6h0M199.5 511.6h0M170.8 554.6h0M219.3 518.5h0M211.0 516.1h0M188.9 548.7h0M153.5 550.3h0M183.3 531.1h0M183.1 558.4h0M182.1 554.6h0M169.5 527.1h0M175.3 553.8h0M159.0 544.7h0M194.2 537.2h0M158.5 539.1h0M196.1 516.0h0M193.8 534.2h0M189.7 522.0h0M213.7 528.7h0M191.1 554.3h0M214.8 517.5h0M158.1 529.4h0M193.1 505.7h0M187.1 513.7h0M161.2 527.4h0M170.4 550.5h0M181.5 534.1h0M160.0 554.7h0M199.5 518.3h0M171.6 521.8h0M162.8 542.5h0M215.8 513.8h0M168.4 530.9h0M175.9 522.7h0M193.4 566.4h0M192.3 513.7h0M157.2 559.1h0M195.9 542.9h0M163.3 559.2h0M171.9 546.1h0M191.8 552.4h0M192.3 534.4h0M164.3 531.6h0M181.0 563.4h0M208.2 508.7h0M184.0 534.9h0M214.3 525.0h0M184.4 555.9h0M180.4 510.7h0M156.5 562.0h0M171.5 562.1h0M198.3 526.0h0M186.0 556.8h0M153.9 543.7h0M217.0 525.7h0M159.7 543.3h0M176.5 530.4h0M199.2 527.2h0M161.5 537.9h0M171.7 548.4h0M162.7 538.8h0M183.6 512.0h0M156.5 530.5h0M193.0 564.7h0M195.4 522.3h0M152.9 542.1h0M181.0 559.4h0M188.5 564.4h0M178.7 557.3h0M193.7 540.7h0M182.2 561.8h0M163.2 547.5h0M202.1 506.1h0M166.2 557.0h0M180.6 526.3h0M203.1 531.2h0M192.2 539.3h0M154.5 530.9h0M198.5 502.7h0M189.5 569.2h0M157.0 538.0h0M183.6 518.9h0M191.9 544.6h0M187.5 517.6h0M200.9 537.8h0M190.9 538.0h0M205.4 519.3h0M184.3 532.7h0M186.5 561.6h0M155.2 556.4h0M152.4 554.7h0M165.9 529.6h0M198.7 509.6h0M209.6 527.8h0M177.2 514.3h0M184.5 530.2h0M208.8 503.0h0M212.6 522.9h0M201.0 515.0h0M176.1 546.9h0M187.7 526.0h0M175.2 525.3h0M192.8 531.6h0M189.7 507.7h0M152.4 533.9h0M150.7 548.8h0M177.7 540.6h0M165.9 537.2h0M188.6 514.6h0M197.0 527.7h0M216.9 507.5h0M168.7 523.4h0M167.5 526.4h0M222.6 514.4h0M179.1 542.8h0M193.8 521.8h0M186.4 564.0h0M190.8 563.5h0M164.8 533.4h0M153.2 538.3h0M177.0 561.4h0M182.0 565.1h0M172.0 525.3h0M186.5 553.8h0M191.7 568.7h0M165.3 535.1h0M162.9 531.0h0M186.2 536.4h0M190.3 558.7h0M180.7 556.7h0M164.5 560.2h0M192.8 515.7h0M179.2 522.0h0M179.5 531.6h0M170.6 556.3h0M177.0 518.7h0M150.5 540.8h0M172.8 560.1h0M190.9 543.0h0M180.4 553.3h0M190.3 536.2h0M209.4 505.4h0M169.8 559.1h0M213.9 508.9h0M177.2 509.9h0M199.4 501.3h0M205.1 512.2h0M178.4 544.2h0M184.8 552.0h0M211.8 509.9h0M184.9 545.5h0M156.6 539.4h0M200.4 516.6h0M191.1 527.5h0M177.3 517.1h0M205.6 523.6h0M165.6 522.1h0M178.4 519.6h0M210.1 512.0h0M151.4 539.3h0M177.7 555.9h0M179.4 509.3h0M182.3 546.4h0M210.8 508.8h0M201.2 508.2h0M185.5 519.4h0M199.5 536.9h0M149.3 551.4h0M191.0 547.0h0M160.1 560.0h0M178.2 533.7h0M194.1 556.4h0M215.0 520.4h0M179.1 564.5h0M215.2 528.8h0M191.6 504.2h0M163.3 523.0h0M207.7 529.9h0M203.0 516.0h0M173.9 523.1h0M161.4 556.6h0M178.7 551.9h0M194.7 511.9h0M172.9 530.9h0M188.4 553.3h0M190.4 510.3h0M195.2 570.2h0M193.9 568.9h0M159.2 534.9h0M196.7 509.0h0M197.5 538.7h0M155.1 532.3h0M167.9 544.5h0M192.6 554.5h0M201.2 526.7h0M175.8 521.2h0M175.8 509.2h0M209.7 507.6h0M171.6 519.4h0M196.8 558.5h0M195.5 528.0h0M156.3 536.1h0M196.7 565.4h0M218.9 513.7h0M175.4 555.8h0M180.1 558.1h0M177.8 558.6h0M200.4 523.5h0M191.3 560.0h0M212.5 520.1h0M191.9 566.5h0M210.1 522.9h0M168.8 532.9h0M191.5 557.2h0M167.9 529.2h0M149.0 545.5h0M181.3 513.5h0M175.6 536.9h0M166.4 520.3h0M151.0 553.6h0M162.3 528.6h0M180.7 538.4h0M191.1 532.1h0M186.9 515.6h0M183.4 522.6h0M190.6 517.7h0M188.8 520.0h0M183.7 524.5h0M203.3 501.4h0M187.3 511.8h0M180.9 521.1h0M175.7 527.8h0M195.0 564.5h0M169.6 545.2h0M179.0 514.9h0M164.3 536.9h0M172.6 538.7h0M161.4 561.1h0M169.6 531.7h0M165.7 539.6h0M187.9 554.8h0M169.7 541.0h0M185.0 560.8h0M203.0 513.1h0M153.5 532.8h0M218.5 507.4h0M166.3 548.8h0M173.5 549.2h0M189.7 550.4h0M184.1 543.0h0M216.4 509.7h0M212.4 527.5h0M151.7 545.3h0M173.8 558.6h0M191.0 516.0h0M175.1 562.6h0M196.7 533.0h0M174.2 546.6h0M175.4 532.6h0M187.6 534.7h0M161.2 558.7h0M200.5 502.4h0M180.6 517.5h0M164.6 524.4h0M172.2 541.9h0M201.4 510.3h0M166.8 542.5h0M195.3 544.7h0M149.6 543.7h0M201.8 532.8h0M199.9 506.2h0M154.9 537.9h0M165.7 552.0h0M192.7 524.3h0M158.6 551.5h0M186.7 509.0h0M212.8 534.7h0M207.5 542.0h0M212.5 541.7h0M217.5 539.7h0M224.2 538.3h0M226.7 541.7h0M232.2 542.0h0M210.8 545.8h0M217.5 550.0h0M222.5 549.2h0M230.0 548.3h0M234.2 551.7h0M225.8 552.5h0M204.2 546.7h0M206.2 552.8h0M205.8 558.3h0M203.3 559.7h0M231.7 558.7h0M200.8 568.3h0M206.7 568.3h0M213.0 570.0h0M214.2 575.3h0M220.5 580.5h0M224.2 575.0h0M228.3 572.5h0M230.0 574.7h0M234.2 569.2h0M236.7 568.3h0M240.8 573.3h0M244.2 574.2h0M242.5 571.7h0M240.0 575.8h0M165.3 564.2h0M168.7 569.2h0M241.7 498.7h0M235.8 510.0h0M244.2 506.7h0M247.5 505.0h0M245.8 505.8h0M251.7 490.8h0M254.2 488.3h0M257.5 487.5h0M258.0 492.5h0M255.0 490.0h0M275.5 529.5h0M250.5 544.7h0M357.8 798.1h0M372.7 833.9h0M341.5 747.2h0M328.5 732.1h0M347.1 816.8h0M333.8 769.2h0M356.8 770.5h0M388.9 792.8h0M316.2 799.8h0M304.9 813.0h0M330.5 772.9h0M377.1 763.8h0M327.2 795.6h0M377.8 782.6h0M328.9 852.7h0M365.9 834.9h0M329.3 794.3h0M356.3 761.1h0M330.4 849.7h0M331.6 774.5h0M329.0 804.6h0M360.0 755.6h0M319.8 780.0h0M318.1 773.1h0M347.5 804.3h0M327.2 830.2h0M291.0 838.0h0M351.4 762.0h0M312.0 846.6h0M356.3 790.2h0M325.3 770.3h0M405.0 803.6h0M383.7 799.0h0M328.6 843.0h0M363.5 781.4h0M301.5 850.8h0M350.5 811.8h0M363.4 806.7h0M341.7 791.6h0M340.2 829.2h0M383.1 816.1h0M328.4 844.4h0M332.9 797.9h0M334.0 805.0h0M344.9 748.0h0M331.1 856.4h0M305.4 846.8h0M367.6 751.3h0M306.1 818.6h0M366.7 790.9h0M381.5 761.0h0M318.5 853.4h0M389.4 823.2h0M318.8 802.4h0M369.9 774.1h0M348.7 852.5h0M290.1 835.0h0M339.6 804.1h0M384.0 790.0h0M328.2 836.6h0M343.4 736.6h0M346.6 757.8h0M358.1 824.7h0M352.7 842.1h0M303.4 837.3h0M320.0 842.0h0M374.9 817.8h0M336.1 856.2h0M371.4 791.9h0M336.4 855.0h0M330.3 840.2h0M326.6 775.2h0M342.8 776.5h0M354.3 748.6h0M303.5 858.8h0M351.9 751.9h0M344.7 788.7h0M340.0 784.4h0M331.0 845.7h0M374.8 770.5h0M362.7 764.1h0M357.7 796.5h0M382.5 809.5h0M310.3 852.5h0M353.7 775.5h0M364.9 794.5h0M318.6 767.8h0M287.0 834.2h0M334.2 855.6h0M313.9 798.9h0M334.0 857.1h0M381.4 830.1h0M329.5 860.7h0M297.1 825.7h0M351.6 799.8h0M300.6 831.8h0M378.1 801.7h0M349.9 735.3h0M329.8 854.5h0M348.4 745.5h0M306.4 816.6h0M376.1 796.0h0M350.2 752.6h0M320.3 765.4h0M395.3 835.1h0M331.0 835.5h0M380.7 811.1h0M351.9 786.3h0M353.2 837.9h0M315.0 824.7h0M360.2 825.9h0M334.1 771.8h0M346.8 792.0h0M313.8 816.5h0M376.1 815.4h0M374.6 793.7h0M372.2 829.0h0M318.6 814.3h0M390.0 799.1h0M368.8 811.1h0M342.9 774.5h0M324.3 847.5h0M375.0 776.5h0M362.1 827.1h0M323.5 820.7h0M325.4 761.0h0M346.7 826.0h0M345.6 840.2h0M359.4 769.3h0M357.2 832.6h0M364.5 815.3h0M320.4 806.8h0M354.0 760.3h0M375.5 764.0h0M356.7 839.8h0M346.9 728.5h0M351.6 820.3h0M370.1 817.3h0M330.0 823.4h0M332.7 776.0h0M350.6 844.3h0M297.6 828.2h0M320.3 798.5h0M341.7 806.7h0M374.1 764.2h0M301.5 812.0h0M322.6 755.3h0M381.8 839.1h0M315.7 788.8h0M341.7 738.3h0M398.6 803.0h0M354.9 731.7h0M307.3 847.1h0M323.0 748.5h0M347.8 786.6h0M325.5 835.3h0M366.6 824.4h0M337.3 793.0h0M354.3 832.4h0M358.6 742.5h0M356.2 835.6h0M367.6 790.0h0M340.9 809.3h0M383.1 772.3h0M355.1 836.1h0M358.5 839.9h0M337.8 744.1h0M311.4 775.5h0M324.0 858.7h0M337.5 741.5h0M343.9 854.0h0M345.8 719.8h0M325.6 837.6h0M372.6 769.7h0M346.4 749.6h0M330.1 864.5h0M362.0 814.0h0M315.5 833.0h0M358.0 760.0h0M348.8 765.2h0M355.0 733.4h0M382.5 758.2h0M297.7 843.6h0M336.5 835.3h0M340.5 854.4h0M316.7 767.4h0M378.5 840.0h0M333.8 730.3h0M315.6 855.5h0M299.9 812.7h0M328.9 813.6h0M335.8 802.7h0M323.9 765.6h0M355.9 803.9h0M380.7 787.2h0M387.5 798.9h0M354.1 817.7h0M328.8 748.9h0M371.3 774.2h0M378.3 794.3h0M335.9 721.7h0M349.5 806.9h0M345.8 847.7h0M316.9 851.4h0M352.4 788.1h0M340.5 771.1h0M340.7 769.9h0M347.1 781.7h0M373.6 810.1h0M330.3 787.9h0M315.7 798.2h0M379.1 815.6h0M334.8 787.6h0M325.5 757.6h0M374.7 816.2h0M403.0 805.4h0M349.0 791.2h0M315.9 806.4h0M366.9 807.5h0M344.4 815.1h0M361.5 780.8h0M328.7 809.9h0M330.7 807.8h0M377.7 816.3h0M405.1 806.9h0M326.9 815.1h0M380.6 776.5h0M298.7 846.7h0M343.8 813.7h0M335.3 858.1h0M298.7 842.8h0M328.6 811.2h0M367.4 762.2h0M299.0 815.6h0M342.4 819.0h0M330.8 783.8h0M361.6 823.1h0M316.9 791.9h0M333.4 749.9h0M336.9 733.3h0M309.2 815.6h0M334.0 779.1h0M346.1 776.8h0M344.1 755.7h0M356.1 737.8h0M347.8 750.2h0M332.7 728.4h0M311.4 826.0h0M341.8 768.6h0M372.1 783.8h0M330.8 769.7h0M328.2 777.5h0M330.0 757.6h0M354.1 846.1h0M372.5 820.8h0M369.7 795.3h0M309.7 857.4h0M346.7 810.1h0M369.4 789.1h0M316.9 834.2h0M360.4 732.7h0M318.9 774.9h0M363.4 762.9h0M302.9 807.0h0M321.2 852.7h0M333.9 738.0h0M335.3 805.7h0M316.6 774.1h0M312.1 794.4h0M306.4 837.4h0M340.9 748.7h0M344.0 809.3h0M364.5 779.5h0M360.9 771.8h0M344.3 799.6h0M366.3 800.3h0M345.9 798.9h0M372.0 810.7h0M340.3 856.2h0M370.8 761.1h0M323.0 813.0h0M339.6 746.8h0M383.9 802.7h0M291.0 828.1h0M345.6 817.0h0M316.7 824.0h0M325.5 748.7h0M356.7 827.4h0M330.7 830.9h0M369.0 829.4h0M386.5 792.5h0M304.3 824.3h0M374.6 828.8h0M356.3 776.7h0M334.6 813.9h0M375.9 819.9h0M349.5 743.0h0M333.6 733.6h0M350.1 809.1h0M378.8 798.6h0M365.2 798.7h0M376.1 783.6h0M357.3 771.9h0M370.9 754.1h0M328.9 822.4h0M378.5 763.0h0M365.3 781.9h0M326.2 728.0h0M313.4 791.0h0M347.0 736.0h0M314.8 810.5h0M372.5 786.6h0M310.6 819.7h0M357.2 754.4h0M317.9 812.6h0M348.4 849.0h0M357.6 722.5h0M306.4 855.3h0M375.9 771.3h0M343.6 798.4h0M360.1 815.5h0M333.1 742.2h0M350.4 833.3h0M335.8 777.4h0M381.3 782.8h0M347.0 788.3h0M347.8 850.2h0M382.0 779.1h0M337.0 830.4h0M400.4 797.8h0M371.6 808.4h0M335.1 739.8h0M341.1 849.9h0M325.0 790.0h0M378.7 817.5h0M305.0 820.8h0M319.2 859.6h0M346.0 771.7h0M292.9 838.4h0M367.8 760.8h0M296.8 820.9h0M341.8 732.1h0M309.5 789.3h0M342.2 800.8h0M381.2 832.5h0M308.1 829.7h0M378.1 768.6h0M323.0 756.9h0M355.2 796.5h0M343.7 746.7h0M338.9 748.9h0M336.1 764.5h0M351.4 827.6h0M407.3 806.2h0M373.6 818.2h0M380.8 816.0h0M334.0 822.9h0M314.0 845.8h0M355.7 806.1h0M336.2 734.8h0M320.4 833.6h0M327.8 761.5h0M367.4 809.3h0M367.1 752.8h0M324.4 753.9h0M307.6 809.0h0M333.4 834.6h0M351.0 791.0h0M343.4 846.9h0M363.4 786.5h0M345.6 807.4h0M306.8 811.3h0M325.5 822.9h0M293.5 827.4h0M374.7 836.2h0M364.7 761.2h0M307.6 800.1h0M331.9 823.5h0M348.5 843.2h0M397.1 794.6h0M340.9 827.3h0M322.2 745.3h0M372.9 816.6h0M336.4 746.9h0M307.4 813.9h0M321.7 771.5h0M312.0 808.6h0M332.1 820.3h0M375.2 774.3h0M348.2 823.8h0M382.4 802.0h0M331.2 794.9h0M374.4 797.7h0M364.5 836.9h0M345.7 742.3h0M321.2 778.7h0M396.9 833.2h0M359.5 745.7h0M307.4 815.1h0M357.5 815.0h0M351.0 727.9h0M306.8 806.5h0M322.9 789.0h0M339.8 808.5h0M335.9 844.3h0M339.7 786.3h0M345.8 746.6h0M352.2 848.7h0M339.9 835.8h0M346.3 764.7h0M318.6 821.8h0M331.7 777.8h0M325.0 830.3h0M348.7 741.4h0M357.1 800.1h0M377.3 832.1h0M333.8 862.7h0M376.7 817.5h0M358.8 791.1h0M379.1 834.6h0M356.2 745.5h0M312.4 829.9h0M317.1 817.5h0M397.3 799.3h0M355.6 821.5h0M380.3 799.0h0M336.6 738.4h0M350.7 769.2h0M368.9 765.4h0M378.3 765.3h0M342.8 770.6h0M351.3 798.1h0M349.3 720.6h0M346.7 733.6h0M335.0 791.9h0M295.7 828.4h0M326.8 760.5h0M322.3 806.7h0M321.4 823.8h0M308.0 831.8h0M372.0 800.1h0M365.3 843.6h0M361.2 844.6h0M347.8 814.2h0M330.6 814.7h0M334.1 828.2h0M326.4 832.5h0M326.5 843.2h0M329.6 735.5h0M379.1 830.8h0M373.5 821.9h0M313.7 808.1h0M340.5 726.2h0M340.5 764.9h0M371.9 763.6h0M342.9 739.7h0M314.1 835.5h0M349.2 816.4h0M359.5 780.7h0M354.9 773.8h0M376.6 781.9h0M340.5 801.0h0M325.7 785.6h0M336.0 760.1h0M347.2 732.3h0M396.5 830.2h0M383.7 794.7h0M336.9 841.7h0M348.9 732.9h0M314.6 805.0h0M330.7 733.6h0M347.9 776.0h0M328.5 823.7h0M380.0 796.4h0M327.2 779.0h0M336.4 771.4h0M369.4 776.9h0M320.2 847.9h0M313.9 831.7h0M351.6 837.5h0M346.8 730.6h0M319.6 855.1h0M324.6 738.0h0M336.4 798.7h0M370.8 801.1h0M367.4 763.7h0M329.4 725.6h0M344.7 751.6h0M389.0 817.0h0M335.6 799.7h0M355.0 753.2h0M352.4 742.6h0M336.2 727.7h0M325.6 824.6h0M331.8 821.5h0M371.8 795.2h0M354.4 830.1h0M356.4 782.9h0M358.4 813.1h0M358.7 743.8h0M358.9 758.6h0M338.7 758.9h0M368.2 749.3h0M331.5 819.2h0M335.4 763.1h0M372.5 760.9h0M347.7 773.0h0M330.3 791.9h0M365.5 776.9h0M343.6 804.1h0M369.6 824.4h0M384.9 838.6h0M342.9 785.4h0M359.0 751.4h0M331.5 842.8h0M388.4 824.6h0M366.7 798.0h0M368.0 781.8h0M307.4 844.4h0M322.0 786.7h0M311.5 779.8h0M310.7 824.1h0M382.1 788.7h0M351.2 776.2h0M327.4 859.2h0M358.2 786.4h0M380.1 822.8h0M342.4 844.8h0M337.7 847.7h0M329.8 764.4h0M312.9 822.2h0M311.1 838.1h0M354.5 827.9h0M378.2 808.8h0M342.6 840.6h0M350.6 794.8h0M329.0 744.9h0M296.2 841.2h0M296.3 845.2h0M366.1 809.8h0M358.6 735.8h0M320.5 856.3h0M333.6 795.4h0M374.2 812.0h0M322.4 758.9h0M343.5 795.4h0M288.2 831.2h0M365.5 785.7h0M351.5 726.2h0M302.8 840.1h0M348.4 821.3h0M359.1 844.6h0M348.0 762.5h0M324.4 839.7h0M316.7 814.9h0M361.7 750.0h0M315.8 853.6h0M292.7 824.6h0M344.8 779.3h0M329.2 800.3h0M350.2 822.3h0M371.0 768.1h0M310.0 850.9h0M326.8 812.3h0M339.2 840.1h0M375.9 779.9h0M343.0 772.6h0M325.5 826.0h0M301.7 828.9h0M330.4 828.0h0M354.0 723.4h0M387.5 825.5h0M348.4 739.2h0M324.4 800.1h0M330.3 781.1h0M355.3 818.8h0M307.3 787.3h0M354.7 807.3h0M302.0 832.5h0M349.0 726.6h0M326.6 850.8h0M323.9 832.2h0M364.0 839.2h0M293.0 830.7h0M353.1 792.1h0M341.5 848.5h0M346.3 760.9h0M376.8 792.4h0M325.6 857.7h0M341.3 744.5h0M358.0 831.1h0M351.1 749.7h0M300.6 823.8h0M324.0 804.3h0M334.0 726.0h0M355.2 834.6h0M311.0 822.8h0M329.0 856.9h0M342.1 813.5h0M387.4 811.0h0M340.6 775.0h0M297.3 824.1h0M390.3 827.8h0M332.9 782.7h0M351.3 780.8h0M336.2 787.5h0M300.4 826.7h0M351.2 718.8h0M400.8 793.8h0M304.3 853.0h0M371.3 759.4h0M315.8 772.0h0M338.7 738.1h0M313.7 839.6h0M340.3 732.2h0M323.1 751.5h0M303.0 824.4h0M297.0 834.0h0M310.5 795.9h0M361.3 762.2h0M361.8 789.9h0M318.6 805.3h0M303.5 822.2h0M304.0 849.9h0M333.7 847.3h0M368.1 827.8h0M332.0 791.1h0M333.0 765.3h0M322.4 805.4h0M340.3 759.8h0M362.2 845.5h0M329.0 819.3h0M374.9 786.0h0M289.4 836.7h0M360.1 760.3h0M362.9 811.7h0M405.0 799.3h0M337.3 810.3h0M377.3 796.4h0M388.1 823.1h0M335.0 810.0h0M370.2 828.5h0M312.0 840.9h0M395.4 795.6h0M348.5 836.3h0M357.8 726.7h0M339.0 824.0h0M320.8 738.9h0M377.0 806.0h0M361.0 800.5h0M337.1 777.0h0M354.4 767.6h0M380.0 793.9h0M385.1 822.1h0M334.7 860.7h0M343.0 807.7h0M357.7 761.2h0M338.3 752.6h0M375.6 823.5h0M332.7 841.0h0M355.2 824.5h0M338.5 826.1h0M336.5 823.2h0M320.3 816.2h0M378.2 776.3h0M339.1 833.4h0M340.1 754.4h0M358.1 729.8h0M342.7 759.3h0M336.5 744.9h0M324.7 821.6h0M355.9 719.4h0M306.2 799.1h0M365.2 796.6h0M337.7 853.8h0M302.1 848.5h0M369.9 782.2h0M291.3 831.8h0M350.8 763.5h0M388.2 820.2h0M341.4 766.2h0M334.4 836.6h0M342.0 741.4h0M400.4 803.7h0M312.7 774.3h0M317.9 785.0h0M331.2 761.1h0M366.5 792.8h0M305.4 827.2h0M357.4 817.8h0M360.7 824.3h0M350.6 742.1h0M365.0 767.5h0M350.1 738.5h0M320.7 828.8h0M359.9 836.1h0M323.9 809.0h0M318.7 790.4h0M326.1 773.7h0M378.0 837.7h0M358.8 774.6h0M391.9 831.9h0M334.7 757.5h0M297.8 835.8h0M350.9 796.0h0M401.6 795.8h0M364.6 776.1h0M362.3 778.6h0M353.1 787.0h0M348.0 767.5h0M363.2 769.5h0M345.7 783.0h0M349.6 769.6h0M344.1 786.4h0M364.6 787.9h0M357.5 780.1h0M354.8 787.3h0M358.3 767.0h0M341.3 780.4h0M355.2 785.9h0M362.1 787.1h0M345.7 773.3h0M357.9 769.3h0M359.4 780.6h0M351.0 764.5h0M370.2 779.4h0M367.4 785.3h0M342.5 785.2h0M359.3 783.1h0M367.6 776.6h0M342.3 775.8h0M356.6 776.6h0M362.5 785.0h0M348.3 772.8h0M367.5 723.3h0M376.7 729.2h0M373.3 731.7h0M369.2 733.3h0M380.5 742.0h0M369.2 745.0h0M382.8 748.7h0M383.8 756.2h0M383.0 765.0h0M393.3 765.3h0M394.5 771.7h0M390.8 780.8h0M398.3 781.3h0M394.2 786.3h0M405.3 794.5h0M414.9 824.6h0M419.7 818.3h0M415.0 819.0h0M421.9 822.2h0M411.9 815.4h0M418.7 824.0h0M409.1 817.6h0M418.7 830.6h0M419.9 824.4h0M419.9 825.7h0M410.8 813.8h0M418.8 825.3h0M417.2 815.5h0M408.9 814.4h0M415.6 816.1h0M410.8 819.1h0M392.5 812.5h0M398.3 815.0h0M395.0 825.0h0M402.5 826.3h0M409.2 823.7h0M421.7 839.2h0M401.7 848.3h0M399.2 851.7h0M373.3 848.3h0M365.5 860.3h0M345.8 863.3h0M311.2 865.5h0M298.3 855.8h0M447.5 856.7h0M443.3 848.0h0M451.8 852.0h0M479.6 876.5h0M479.9 878.5h0M493.5 879.4h0M495.5 887.1h0M450.1 849.6h0M487.8 881.7h0M491.6 886.0h0M464.9 863.4h0M496.8 874.9h0M441.1 837.9h0M474.6 870.1h0M427.3 839.8h0M499.2 879.5h0M467.1 863.8h0M424.6 822.4h0M479.4 870.5h0M483.5 870.9h0M494.0 875.4h0M492.0 871.1h0M492.6 882.1h0M488.0 875.8h0M429.1 825.0h0M503.8 876.9h0M467.1 860.1h0M465.7 855.4h0M437.9 834.4h0M480.7 872.2h0M492.6 867.4h0M442.9 837.4h0M422.9 839.2h0M493.7 873.0h0M435.4 838.1h0M487.0 878.6h0M462.2 850.8h0M457.6 845.0h0M428.4 835.0h0M500.5 875.1h0M425.5 837.9h0M469.1 854.1h0M471.1 865.1h0M485.0 875.9h0M476.3 858.3h0M499.6 883.7h0M470.2 870.0h0M483.1 867.6h0M460.5 864.8h0M447.0 840.7h0M492.0 879.5h0M426.3 826.9h0M454.5 854.6h0M502.9 882.3h0M466.6 858.6h0M461.3 843.9h0M489.6 881.9h0M457.1 861.8h0M475.0 862.6h0M435.5 831.6h0M434.0 832.0h0M476.2 867.0h0M475.9 875.7h0M460.1 856.0h0M489.8 878.3h0M453.4 846.4h0M493.4 890.6h0M501.2 879.1h0M423.5 837.5h0M463.2 855.1h0M457.7 858.3h0M480.4 875.0h0M459.3 854.1h0M506.6 882.6h0M465.7 848.9h0M472.6 859.8h0M469.0 851.1h0M490.6 875.5h0M439.3 841.5h0M457.5 851.1h0M424.2 826.7h0M484.1 878.7h0M467.7 857.5h0M469.0 866.7h0M428.7 827.5h0M478.0 876.5h0M455.1 849.4h0M422.9 829.9h0M436.1 835.3h0M507.1 878.7h0M453.1 857.4h0M481.7 877.4h0M505.4 879.4h0M487.8 883.5h0M492.7 869.5h0M456.3 853.3h0M434.5 840.2h0M503.3 874.9h0M501.2 872.3h0M462.2 845.8h0M464.9 865.0h0M498.4 876.5h0M466.4 851.3h0M459.3 857.2h0M469.2 868.8h0M444.8 847.7h0M450.4 841.5h0M478.5 874.3h0M447.8 838.9h0M488.0 865.6h0M450.5 845.9h0M449.4 842.7h0M428.6 837.5h0M497.4 877.9h0M485.9 868.8h0M485.6 880.0h0M443.6 845.4h0M426.5 832.2h0M485.4 871.7h0M467.5 866.8h0M471.8 856.8h0M475.4 855.0h0M504.5 882.5h0M481.5 870.8h0M461.1 861.7h0M433.5 834.9h0M456.4 856.3h0M494.8 884.1h0M458.8 862.8h0M421.5 829.2h0M462.5 857.9h0M479.5 881.1h0M488.5 880.4h0M479.2 872.4h0M494.1 880.9h0M506.3 874.1h0M477.6 866.2h0M472.7 861.8h0M494.1 867.9h0M490.9 890.9h0M457.3 842.8h0M425.8 835.7h0M494.8 877.3h0M425.0 825.4h0M487.1 867.4h0M507.7 880.6h0M437.8 840.2h0M480.9 881.9h0M422.1 825.5h0M433.1 838.2h0M445.6 838.9h0M429.4 840.8h0M456.7 847.4h0M455.7 844.8h0M439.6 836.9h0M428.9 833.4h0M482.6 879.8h0M443.3 848.3h0M447.2 856.7h0M477.5 883.3h0M497.5 903.8h0M498.3 910.8h0M501.7 915.8h0M502.8 919.2h0M503.3 923.7h0M505.0 933.3h0M509.2 952.2h0M519.2 909.7h0M512.2 968.8h0M513.3 972.5h0M513.7 976.7h0M514.2 981.7h0M515.8 985.8h0M517.5 988.3h0M518.3 995.0h0M525.3 989.7h0M524.7 995.0h0M528.3 1000.5h0M605.0 840.5h0M602.5 842.5h0M600.8 845.0h0M602.5 848.3h0M606.2 853.0h0M606.7 859.2h0M608.0 863.0h0M611.2 870.0h0M613.3 875.8h0M615.0 879.2h0M616.7 882.5h0M618.7 885.5h0M616.7 890.0h0M622.0 890.8h0M625.0 893.3h0M627.2 896.7h0M621.7 903.0h0M629.2 903.3h0M630.0 906.7h0M627.5 909.2h0M633.3 912.5h0M628.3 915.0h0M630.8 918.3h0M625.8 919.2h0M623.3 922.5h0M620.8 925.0h0M618.3 925.8h0M603.3 844.2h0M607.2 861.3h0M614.2 877.5h0M623.7 892.0h0M628.3 900.0h0M629.7 916.7h0M705.8 849.3h0M693.9 855.7h0M703.6 847.0h0M730.0 852.5h0M708.0 851.1h0M696.1 858.2h0M724.0 858.8h0M720.1 858.7h0M726.4 850.1h0M714.0 860.6h0M696.1 849.1h0M698.0 844.1h0M719.0 848.4h0M711.1 856.4h0M707.5 860.4h0M710.7 853.7h0M684.9 847.5h0M701.2 856.6h0M721.8 855.0h0M724.4 852.4h0M691.1 852.7h0M694.9 847.8h0M715.9 858.6h0M706.4 854.7h0M699.3 854.8h0M716.8 847.5h0M696.6 851.6h0M689.6 847.9h0M710.8 848.6h0M686.5 855.2h0M728.7 846.7h0M695.9 845.8h0M698.4 850.3h0M728.6 854.2h0M729.9 845.3h0M693.5 850.4h0M723.1 857.0h0M686.7 853.3h0M709.2 846.8h0M694.6 860.2h0M728.3 857.1h0M701.9 860.7h0M720.7 849.7h0M705.8 859.8h0M721.3 853.3h0M727.1 848.1h0M714.7 855.2h0M726.4 852.0h0M708.8 849.5h0M720.5 857.1h0M727.1 844.8h0M712.4 845.4h0M718.3 857.3h0M696.2 860.8h0M690.3 850.0h0M688.5 854.5h0M731.5 850.1h0M697.1 855.9h0M713.4 849.9h0M695.2 854.0h0M698.9 858.9h0M701.0 853.9h0M709.2 856.5h0M707.7 846.9h0M718.5 859.5h0M689.6 857.0h0M715.7 849.5h0M728.9 848.8h0M727.9 852.4h0M693.0 852.4h0M703.5 851.0h0M686.6 850.6h0M724.9 848.3h0M712.5 855.5h0M693.4 854.2h0M724.2 854.8h0M730.3 847.9h0M691.7 848.1h0M705.5 857.1h0M718.7 854.5h0M712.4 861.5h0M726.6 854.0h0M701.6 847.1h0M712.2 820.0h0M695.8 830.0h0M700.3 834.3h0M702.5 839.5h0M720.5 840.5h0M730.8 838.0h0M735.8 841.2h0M712.4 941.5h0M706.9 941.5h0M705.0 940.0h0M716.2 938.8h0M715.0 943.1h0M709.4 937.2h0M716.5 940.8h0M703.8 933.9h0M704.3 937.4h0M708.1 934.8h0M709.5 940.2h0M706.5 949.7h0M710.3 945.2h0M699.4 935.3h0M706.6 946.7h0M716.5 942.4h0M705.6 935.1h0M701.7 936.6h0M706.4 943.8h0M701.7 934.0h0M697.7 934.8h0M709.4 941.9h0M707.9 945.4h0M705.8 938.4h0M710.9 942.7h0M708.2 938.3h0M706.8 951.3h0M708.2 948.2h0M711.8 937.5h0M702.6 938.2h0M713.8 938.5h0M685.0 930.0h0M647.5 980.8h0M650.0 981.7h0M652.5 984.2h0M648.3 984.2h0M650.8 985.0h0M712.2 718.3h0M718.0 719.7h0M721.7 720.8h0M724.2 717.5h0M728.3 715.5h0M732.0 718.3h0M725.0 719.2h0M720.0 720.0h0M740.8 716.2h0M736.3 784.3h0M742.0 792.5h0M740.3 794.2h0M738.7 795.8h0M794.2 782.0h0M796.7 783.3h0M792.0 789.2h0M796.7 790.8h0M797.5 794.2h0M798.3 796.7h0M796.7 775.8h0M509.2 952.0h0M512.0 969.2h0M513.3 972.5h0M513.8 975.8h0M514.2 981.7h0M515.0 985.8h0M517.5 988.3h0M518.3 992.5h0M518.7 995.8h0M525.3 989.5h0M524.7 995.0h0M528.3 1000.3h0M430.8 1045.8h0M433.3 1044.2h0M435.8 1042.5h0M438.3 1040.8h0M524.8 1004.4h0M523.6 1007.4h0M516.7 1011.8h0M511.3 1014.8h0M513.4 1016.6h0M510.9 1019.3h0M518.5 1007.7h0M517.8 1009.8h0M508.6 1014.2h0M519.7 1010.7h0M514.7 1015.4h0M521.6 1007.1h0M516.1 1008.9h0M521.0 1004.7h0M525.9 1007.6h0M517.6 1014.7h0M523.9 1009.0h0M523.6 1011.7h0M522.5 1013.1h0M511.3 1012.1h0M523.3 1003.6h0M509.4 1016.7h0M513.6 1013.8h0M518.2 1017.0h0M526.9 1006.0h0M514.1 1010.2h0M513.9 1011.9h0M521.0 1014.6h0M513.5 1018.6h0M519.4 1014.1h0M877.9 426.6h0M886.6 438.5h0M935.6 375.0h0M939.8 374.4h0M942.5 376.5h0M955.0 371.2h0M769.1 207.0h0M758.4 203.2h0M733.7 198.3h0M762.7 201.2h0M774.2 208.0h0M803.4 220.5h0M761.1 203.1h0M757.5 210.6h0M777.3 213.1h0M737.0 214.2h0M740.1 219.5h0M796.0 221.7h0M741.8 203.3h0M761.1 217.8h0M767.6 228.0h0M805.1 219.0h0M751.3 221.3h0M807.8 221.2h0M759.3 204.2h0M744.5 208.0h0M778.8 215.1h0M783.0 226.9h0M792.2 214.6h0M772.2 217.2h0M777.0 209.3h0M725.2 195.4h0M768.9 216.7h0M745.0 200.9h0M741.5 196.6h0M812.2 216.0h0M749.8 221.2h0M783.1 218.5h0M756.4 199.8h0M808.7 228.2h0M798.4 217.9h0M744.5 215.1h0M759.5 225.8h0M785.1 219.1h0M814.0 226.9h0M788.9 216.1h0M763.6 226.0h0M803.1 231.5h0M798.8 238.7h0M747.3 209.1h0M769.0 214.1h0M755.2 208.3h0M793.5 233.3h0M812.0 229.1h0M774.3 216.2h0M806.8 219.6h0M754.8 201.4h0M757.3 220.6h0M758.7 218.6h0M753.6 200.4h0M806.1 231.5h0M738.5 206.1h0M734.6 200.6h0M768.6 224.8h0M792.3 216.9h0M792.1 238.9h0M775.0 230.7h0M743.6 218.4h0M736.4 201.2h0M798.1 223.0h0M759.5 205.7h0M748.0 222.2h0M773.6 219.1h0M738.3 215.7h0M778.8 218.2h0M779.9 233.4h0M767.6 218.8h0M758.9 215.4h0M783.8 228.0h0M795.5 229.3h0M796.6 216.4h0M800.6 230.0h0M799.2 237.0h0M800.0 232.0h0M790.1 212.4h0M790.2 221.9h0M803.0 222.2h0M727.0 199.9h0M780.4 228.8h0M749.5 203.2h0M756.3 219.1h0M771.5 229.5h0M747.8 210.7h0M768.9 208.4h0M745.8 204.5h0M746.4 216.5h0M804.6 230.6h0M790.4 229.4h0M730.7 207.2h0M801.0 234.7h0M797.5 221.5h0M733.3 209.1h0M741.0 208.9h0M792.7 228.6h0M748.3 201.6h0M775.4 212.2h0M759.3 211.0h0M751.0 209.4h0M750.3 196.6h0M790.1 238.6h0M781.0 213.8h0M755.6 211.5h0M789.4 223.3h0M748.5 215.7h0M743.5 212.4h0M787.3 212.5h0M754.8 219.4h0M763.3 213.0h0M794.6 224.1h0M807.4 215.5h0M799.6 222.4h0M770.2 224.3h0M789.6 214.4h0M786.7 236.5h0M757.4 212.4h0M761.0 212.5h0M779.6 216.9h0M788.9 235.4h0M754.2 225.2h0M775.0 226.3h0M742.7 193.7h0M791.1 227.1h0M768.6 221.8h0M756.0 213.4h0M763.2 224.6h0M819.0 219.0h0M805.7 225.0h0M770.2 207.8h0M814.2 222.5h0M761.2 210.4h0M730.9 195.6h0M760.1 209.5h0M734.8 215.5h0M783.8 231.2h0M754.5 214.4h0M780.8 224.8h0M750.4 211.2h0M746.3 222.3h0M779.7 208.7h0M809.7 219.5h0M742.1 206.7h0M781.9 209.6h0M791.9 222.9h0M814.5 225.0h0M785.2 210.7h0M790.9 234.6h0M737.5 205.1h0M801.0 216.1h0M730.1 197.6h0M776.7 224.1h0M813.8 214.6h0M755.1 201.8h0M816.2 215.5h0M783.9 216.3h0M763.3 212.6h0M802.0 218.6h0M784.0 218.0h0M749.1 198.0h0M748.6 204.7h0M811.3 216.2h0M757.5 204.2h0M818.3 216.0h0M741.4 195.5h0M739.4 193.3h0M736.0 202.8h0M730.9 188.5h0M738.0 202.4h0M747.0 199.4h0M737.5 206.9h0M750.1 206.6h0M757.1 205.5h0M783.3 218.9h0M747.8 195.8h0M733.6 197.8h0M740.8 205.2h0M737.2 203.9h0M803.7 220.6h0M739.7 189.1h0M771.6 207.8h0M744.1 191.8h0M765.0 204.3h0M757.1 202.4h0M730.4 187.8h0M705.8 193.5h0M728.1 193.3h0M720.5 175.7h0M716.9 189.1h0M712.4 189.8h0M711.7 175.1h0M721.4 200.6h0M723.2 183.5h0M730.5 178.4h0M719.3 205.5h0M724.0 201.6h0M728.3 191.4h0M710.2 177.8h0M713.7 181.1h0M699.4 197.0h0M710.7 193.8h0M703.8 199.6h0M708.6 177.2h0M729.0 186.6h0M716.5 197.5h0M712.4 198.2h0M702.7 196.6h0M704.6 183.2h0M700.5 191.3h0M702.2 189.0h0M724.3 191.4h0M728.2 184.4h0M701.6 198.5h0M712.7 188.0h0M713.4 194.5h0M723.8 204.0h0M714.2 203.5h0M726.4 201.1h0M708.8 203.5h0M713.3 177.7h0M727.9 188.5h0M700.9 194.3h0M731.2 183.3h0M722.5 188.0h0M707.3 189.3h0M707.4 193.7h0M725.9 178.5h0M727.6 178.4h0M712.4 179.1h0M721.6 183.2h0M728.1 199.0h0M702.6 186.6h0M721.4 180.4h0M706.5 191.1h0M729.6 173.5h0M706.9 200.7h0M708.0 191.5h0M719.3 189.5h0M716.2 204.2h0M726.6 184.4h0M708.1 181.3h0M696.2 190.5h0M699.2 192.7h0M707.1 186.3h0M717.5 193.9h0M701.9 200.0h0M721.9 205.7h0M716.5 182.4h0M708.8 188.6h0M725.1 184.3h0M714.6 183.9h0M704.5 185.2h0M700.5 185.0h0M711.1 180.9h0M708.0 199.1h0M716.7 185.5h0M711.9 176.7h0M722.4 195.8h0M729.7 190.7h0M703.9 193.8h0M724.7 193.5h0M719.0 198.4h0M708.5 187.0h0M712.7 202.1h0M780.7 303.1h0M771.4 297.5h0M779.1 302.4h0M773.8 307.0h0M790.1 314.3h0M789.1 312.8h0M778.9 308.9h0M774.2 298.4h0M782.4 304.8h0M778.5 310.4h0M772.0 301.6h0M775.7 311.3h0M769.9 299.1h0M782.9 309.9h0M769.3 295.6h0M787.7 306.9h0M782.5 313.5h0M774.5 309.3h0M790.1 310.8h0M771.8 306.2h0M778.5 301.0h0M789.0 309.5h0M775.9 298.7h0M786.3 317.0h0M772.7 299.1h0M789.4 307.7h0M765.6 303.5h0M766.3 301.8h0M766.0 298.0h0M775.1 302.8h0M792.5 309.5h0M768.9 301.1h0M778.5 304.0h0M773.0 296.3h0M782.3 315.7h0M788.1 314.1h0M767.7 295.3h0M782.5 308.0h0M784.0 304.6h0M772.5 303.6h0M781.1 314.1h0M783.5 306.8h0M769.6 305.2h0M791.2 311.9h0M765.8 295.7h0M776.6 306.1h0M413.5 416.0h0M410.2 406.9h0M400.9 414.4h0M396.8 407.4h0M414.5 413.7h0M403.2 413.0h0M396.9 412.8h0M399.5 397.6h0M396.2 399.8h0M409.3 402.2h0M407.3 412.0h0M397.4 397.0h0M398.5 400.2h0M392.8 402.2h0M396.4 416.1h0M404.0 402.0h0M408.3 409.8h0M410.6 410.4h0M416.7 414.7h0M393.1 409.6h0M417.3 422.0h0M405.1 396.3h0M220.0 540.0h0M213.3 544.2h0M220.0 546.7h0M227.5 546.7h0M221.7 550.8h0M215.0 538.3h0M210.0 548.3h0M208.3 538.3h0"/>
<path d="M983.0 666.3h0" stroke="#8A5CF0"/><path d="M997.8 667.5h0" stroke="#8A5CF0"/><path d="M1033.3 674.7h0" stroke="#0A08FE"/><path d="M979.2 717.5h0" stroke="#0A08FE"/><path d="M795.5 780.3h0" stroke="#8A5CF0"/><path d="M798.0 778.0h0" stroke="#8A5CF0"/>
</g>
<g fill="none" stroke="#000" stroke-width="3">
<path d="M95.3 50.7V1121M93.9 1119.5H1104"/>
<path d="M141.4 1121v3.7"/><path d="M304.7 1121v3.7"/><path d="M468.0 1121v3.7"/><path d="M631.3 1121v3.7"/><path d="M794.6 1121v3.7"/><path d="M957.9 1121v3.7"/><path d="M90.3 277.2h3.7"/><path d="M90.3 571.4h3.7"/><path d="M90.3 865.6h3.7"/>
</g>
<text x="599.1" y="36.9" text-anchor="middle" font-size="34.3" font-weight="bold">Crip3</text>
<g font-size="30"><text x="141.4" y="1147.8" text-anchor="middle">-15</text><text x="304.7" y="1147.8" text-anchor="middle">-10</text><text x="468.0" y="1147.8" text-anchor="middle">-5</text><text x="631.3" y="1147.8" text-anchor="middle">0</text><text x="794.6" y="1147.8" text-anchor="middle">5</text><text x="957.9" y="1147.8" text-anchor="middle">10</text><text x="88.5" y="287.6" text-anchor="end">10</text><text x="88.5" y="581.8" text-anchor="end">0</text><text x="88.5" y="876.0" text-anchor="end">-10</text></g>
<text x="597.2" y="1180.5" text-anchor="middle" font-size="30">umapNC_1</text>
<text transform="translate(34 586) rotate(-90)" text-anchor="middle" font-size="30">umapNC_2</text>
<rect x="1116.2" y="547.8" width="15.3" height="75.8" fill="url(#g)"/>
<g stroke="#fff" stroke-width="0.8" stroke-opacity="0.7" fill="none"><path d="M1116.2 554.4h3M1128.5 554.4h3"/><path d="M1116.2 571.7h3M1128.5 571.7h3"/><path d="M1116.2 589.0h3M1128.5 589.0h3"/><path d="M1116.2 606.3h3M1128.5 606.3h3"/></g>
<g font-size="24.7"><text x="1139.2" y="563.3">1.00</text><text x="1139.2" y="580.9">0.75</text><text x="1139.2" y="598.5">0.50</text><text x="1139.2" y="616.1">0.25</text><text x="1139.2" y="633.7">0.00</text></g>
</svg>
</body></html>
